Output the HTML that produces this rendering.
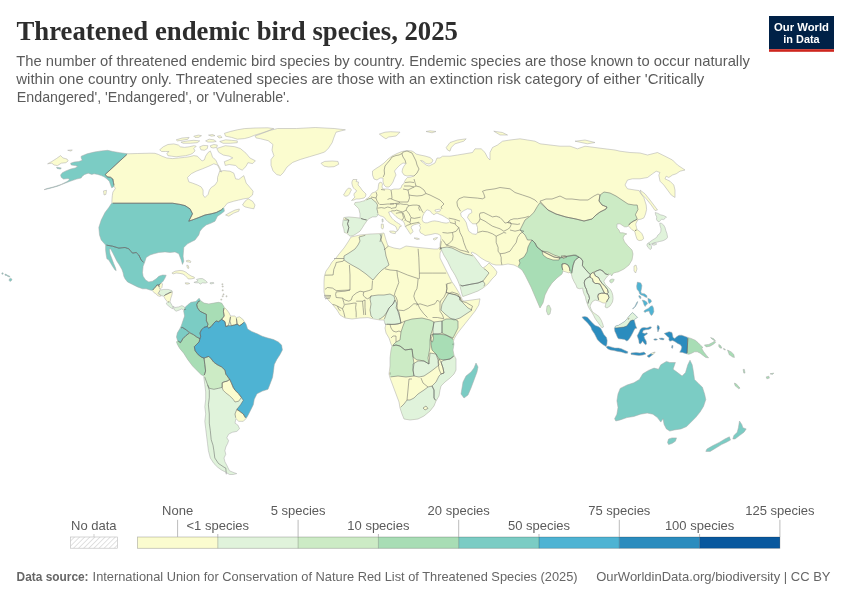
<!DOCTYPE html>
<html><head><meta charset="utf-8"><style>
html,body{margin:0;padding:0;background:#fff;width:850px;height:600px;overflow:hidden}
svg{display:block;will-change:transform}
.t{font-family:"Liberation Serif",serif;font-weight:700;fill:#2d2d2d}
.s{font-family:"Liberation Sans",sans-serif;fill:#5b5b5b}
.l{font-family:"Liberation Sans",sans-serif;fill:#5b5b5b;font-size:13px}
</style></head><body>
<svg width="850" height="600" viewBox="0 0 850 600">
<defs>
<pattern id="hatch" patternUnits="userSpaceOnUse" width="3.6" height="3.6" patternTransform="rotate(45)">
<rect width="3.6" height="3.6" fill="#fff"/><line x1="0" y1="0" x2="0" y2="3.6" stroke="#d2d2d2" stroke-width="1.3"/></pattern>
</defs>
<text class="t" x="16.5" y="39.8" font-size="27" textLength="441.5" lengthAdjust="spacingAndGlyphs">Threatened endemic bird species, 2025</text>
<text class="s" x="16.3" y="66" font-size="14.8" textLength="733.5" lengthAdjust="spacingAndGlyphs">The number of threatened endemic bird species by country. Endemic species are those known to occur naturally</text>
<text class="s" x="16.3" y="84.2" font-size="14.8" textLength="688" lengthAdjust="spacingAndGlyphs">within one country only. Threatened species are those with an extinction risk category of either 'Critically</text>
<text class="s" x="16.8" y="101.8" font-size="14.8" textLength="273" lengthAdjust="spacingAndGlyphs">Endangered', 'Endangered', or 'Vulnerable'.</text>
<g>
<rect x="769" y="16" width="65" height="33.2" fill="#002147"/>
<rect x="769" y="49.2" width="65" height="2.6" fill="#ce261e"/>
<text x="801.5" y="30.7" font-family="Liberation Sans, sans-serif" font-weight="700" font-size="11.5" fill="#fff" text-anchor="middle" textLength="55" lengthAdjust="spacingAndGlyphs">Our World</text>
<text x="801.5" y="42.8" font-family="Liberation Sans, sans-serif" font-weight="700" font-size="11.5" fill="#fff" text-anchor="middle" textLength="36.3" lengthAdjust="spacingAndGlyphs">in Data</text>
</g>
<g id="map">
<path d="M82.3,160.3 78.8,161.5 74.1,162.1 70.6,163.2 71.2,165.0 75.3,165.6 77.7,166.2 75.3,167.9 70.6,169.1 65.9,170.9 62.4,172.7 60.6,175.0 61.2,177.3 63.5,179.1 68.2,178.5 69.4,179.7 67.1,181.5 61.2,184.4 54.1,186.8 47.1,188.5 44.1,189.7 49.4,188.5 57.6,186.2 63.5,183.8 69.4,181.5 72.9,180.3 76.5,179.1 81.2,177.9 82.3,176.2 84.7,174.4 88.2,173.2 91.8,174.4 94.1,173.8 97.7,174.4 101.2,175.6 104.1,176.8 107.1,179.1 109.4,181.5 110.6,185.0 111.8,187.9 114.1,186.2 113.5,182.7 112.9,179.1 110.6,177.3 107.1,176.8 105.3,174.4 127.7,153.8 120.0,152.7 112.9,151.5 107.7,150.3 101.2,150.9 94.1,152.1 87.1,153.8 81.2,156.2 81.2,157.9Z" fill="#7bccc4"/>
<path d="M60.6,169.1 61.2,167.9 56.5,167.3 57.1,168.5Z" fill="#7bccc4"/>
<path d="M72.3,149.9 67.7,150.3 71.2,151.1Z" fill="#fbfccf"/>
<path d="M105.9,194.4 106.5,190.3 103.5,190.9 104.1,195.0Z" fill="#fbfccf"/>
<path d="M54.1,165.0 57.6,165.6 61.2,163.2 65.9,162.7 68.2,160.9 67.1,159.1 62.9,157.9 60.6,155.6 56.5,158.5 51.8,161.5 47.6,163.8 51.8,163.2Z" fill="#fbfccf"/>
<path d="M110.6,177.3 112.9,179.1 113.5,182.7 114.1,186.2 115.3,188.5 112.9,192.1 112.3,195.6 112.0,199.1 111.8,203.2 172.5,203.2 180.0,204.4 185.0,205.6 190.0,208.8 192.5,213.8 188.8,221.2 193.8,219.4 198.8,217.5 205.0,215.0 211.2,213.8 216.2,212.5 221.2,210.0 223.8,207.5 227.5,203.1 233.8,201.2 238.8,200.0 243.8,198.8 248.8,198.1 252.5,195.0 253.1,191.2 250.0,187.5 246.2,183.1 243.8,175.6 238.8,179.4 235.6,178.8 233.8,173.1 230.0,171.2 223.8,170.6 221.1,171.1 219.6,167.4 217.5,164.0 216.2,160.9 215.0,159.2 212.6,157.4 211.5,153.9 210.3,150.9 207.9,152.7 205.6,156.2 204.4,159.8 202.1,160.9 199.7,158.6 197.4,156.2 193.8,155.6 189.1,156.8 184.4,157.4 178.5,158.0 172.6,158.6 166.8,158.0 162.0,156.2 158.5,154.5 155.0,153.3 150.0,153.2 137.5,153.5 127.6,153.8 127.7,153.8 105.3,174.4 107.1,176.8ZM221.5,172.0 220.0,171.2 221.1,171.1ZM187.5,177.5 191.2,173.8 196.2,171.2 202.5,168.8 208.8,166.2 213.8,163.8 217.5,165.0 220.0,170.0 217.5,177.5 217.5,181.2 215.0,185.0 211.2,187.5 209.4,190.0 208.1,194.4 205.0,197.5 203.1,195.0 203.1,190.0 201.2,186.9 197.5,185.0 192.5,183.1 188.8,181.9Z" fill="#fbfccf"/>
<path d="M165.6,151.5 169.1,151.5 166.8,153.3 167.9,155.7 171.5,156.2 176.2,156.8 180.9,156.2 185.6,155.7 190.3,154.5 192.7,153.3 195.0,150.9 193.8,148.6 196.2,146.2 193.8,145.7 189.1,146.8 184.4,147.4 180.3,146.8 178.5,145.1 173.8,143.9 167.9,144.5 163.2,146.8 159.7,149.8 161.5,151.5Z" fill="#fbfccf"/>
<path d="M204.4,150.3 207.3,148.6 207.9,145.7 203.2,145.4 199.7,146.8 200.9,149.8Z" fill="#fbfccf"/>
<path d="M213.2,148.0 216.8,147.4 217.3,145.1 213.8,144.5 210.3,145.7 210.9,147.4Z" fill="#fbfccf"/>
<path d="M212.7,142.1 216.2,141.5 213.8,139.8 209.1,139.2 205.6,140.9 207.9,142.1Z" fill="#fbfccf"/>
<path d="M230.3,143.3 237.3,142.7 237.3,140.9 231.5,140.3 225.6,139.8 219.7,141.5 223.2,143.3Z" fill="#fbfccf"/>
<path d="M231.5,137.4 237.3,139.2 244.4,138.6 249.1,137.4 255.0,135.1 260.9,133.3 267.9,130.9 273.8,128.6 267.9,127.8 255.0,128.0 244.4,128.6 237.3,129.8 230.3,131.5 224.4,133.3 225.6,136.2Z" fill="#fbfccf"/>
<path d="M182.1,140.3 187.9,139.2 189.1,137.4 182.1,138.0 176.2,139.8 177.3,140.9Z" fill="#fbfccf"/>
<path d="M190.3,143.3 197.3,142.7 199.7,140.9 193.8,140.3 187.9,140.9 180.9,142.1 183.2,143.3Z" fill="#fbfccf"/>
<path d="M198.5,137.4 201.5,135.7 198.5,135.1 193.8,136.2 195.0,137.4Z" fill="#fbfccf"/>
<path d="M215.0,135.7 212.7,134.5 208.5,135.1 211.5,136.2Z" fill="#fbfccf"/>
<path d="M222.1,137.4 220.3,135.7 217.3,136.2 219.1,138.0Z" fill="#fbfccf"/>
<path d="M223.4,155.1 229.1,156.1 232.8,157.9 229.1,159.8 224.3,161.7 225.3,165.5 229.1,164.5 235.7,165.5 238.5,168.3 242.2,170.2 246.0,166.4 247.9,162.7 252.6,163.6 255.4,160.8 249.8,157.9 246.0,153.2 240.3,148.5 234.7,146.7 225.3,145.7 216.8,148.5 218.7,152.3Z" fill="#fbfccf"/>
<path d="M219.3,168.6 219.4,168.9 219.6,169.2 220.0,168.8Z" fill="#fbfccf"/>
<path d="M260.7,138.8 268.2,140.7 272.9,144.5 272.0,150.1 273.9,155.8 271.0,159.5 271.0,165.2 273.0,170.8 276.7,174.6 280.5,175.5 283.3,172.7 287.0,167.0 292.7,162.4 300.2,159.5 309.6,156.7 319.0,153.9 324.7,152.0 328.5,148.2 332.2,142.6 334.1,137.0 336.0,132.2 345.4,129.8 334.1,128.5 315.3,127.5 296.5,128.5 277.6,128.5 270.0,130.4 262.6,133.2 255.0,136.0 256.0,137.9Z" fill="#fbfccf"/>
<path d="M250.0,208.1 253.8,208.8 255.0,205.0 252.5,201.2 248.1,198.8 245.0,201.2 242.5,205.0 245.0,206.9Z" fill="#fbfccf"/>
<path d="M233.8,213.1 238.8,211.2 239.4,209.0 235.0,210.0 230.0,212.5 225.6,215.0 228.8,216.2Z" fill="#fbfccf"/>
<path d="M108.8,207.5 105.0,212.5 101.2,220.0 98.8,227.5 99.5,235.0 101.2,240.0 105.6,245.0 112.5,246.2 118.8,248.1 125.0,247.5 128.8,248.8 132.5,253.1 136.2,252.5 138.8,255.0 141.2,260.0 144.4,263.1 146.2,257.5 150.0,255.0 153.8,253.8 158.8,252.5 165.0,251.9 170.0,252.5 175.0,251.9 178.8,253.8 181.2,260.0 182.5,264.4 183.8,261.2 183.1,256.2 183.8,247.5 187.5,243.8 192.5,241.2 195.0,240.0 198.8,235.0 200.0,231.2 202.5,228.1 206.2,225.0 211.2,223.1 215.0,221.2 217.5,216.2 221.2,213.8 224.4,211.2 223.8,207.5 221.2,210.0 216.2,212.5 211.2,213.8 205.0,215.0 198.8,217.5 193.8,219.4 188.8,221.2 192.5,213.8 190.0,208.8 185.0,205.6 180.0,204.4 172.5,203.2 111.8,203.2 111.2,203.8Z" fill="#7bccc4"/>
<path d="M106.2,255.0 106.9,258.8 108.8,260.0 110.6,263.1 112.5,266.2 115.0,270.0 116.2,270.6 115.6,268.1 113.8,263.8 111.9,258.8 110.0,253.8 109.4,249.0 110.6,249.0 112.5,252.5 114.4,256.2 116.9,261.2 119.4,265.0 121.9,269.4 123.1,272.8 123.8,276.2 125.0,278.8 127.5,281.9 132.5,284.4 137.5,286.9 142.5,288.8 146.2,288.8 150.0,290.0 152.5,290.6 153.8,288.8 155.6,286.9 156.9,285.0 158.8,285.0 161.2,283.1 163.1,281.2 165.0,278.1 166.2,275.2 162.5,275.0 158.8,276.2 156.2,278.8 152.5,281.2 148.8,281.9 145.6,280.0 143.1,276.2 142.5,272.5 143.1,266.2 144.4,263.1 141.2,260.0 138.8,255.0 136.2,252.5 132.5,253.1 128.8,248.8 125.0,247.5 118.8,248.1 112.5,246.2 105.6,245.0 105.6,250.0Z" fill="#7bccc4"/>
<path d="M176.2,273.0 180.0,273.4 183.0,274.1 185.2,275.6 187.1,277.5 188.2,278.9 191.2,278.9 194.6,278.2 194.2,277.1 191.2,276.0 188.2,274.1 186.0,272.2 183.0,270.8 180.0,270.4 175.0,271.2 171.9,273.0 173.0,274.0Z" fill="#fbfccf"/>
<path d="M187.5,284.2 189.8,283.5 188.2,282.9 185.2,282.8 185.6,283.9Z" fill="#fbfccf"/>
<path d="M156.2,294.0 158.1,293.8 158.8,291.9 160.6,290.0 159.4,288.1 158.8,285.0 156.9,285.0 155.6,286.9 153.8,288.8 152.5,290.6 153.8,292.5Z" fill="#fbfccf"/>
<path d="M160.6,288.8 161.9,287.5 162.5,283.8 161.2,283.1 158.8,285.0 159.4,288.1Z" fill="#fbfccf"/>
<path d="M158.8,293.8 161.2,295.6 163.8,296.2 165.0,295.0 167.5,293.8 170.0,292.5 172.5,291.9 171.9,290.6 168.1,289.4 163.8,289.4 160.6,290.0 158.8,291.9Z" fill="#e0f3db"/>
<path d="M160.0,296.5 161.2,295.6 158.1,293.8 156.2,294.0 157.5,295.6Z" fill="#fbfccf"/>
<path d="M167.5,301.9 170.0,301.9 170.6,298.8 171.9,295.0 172.5,291.9 170.0,292.5 167.5,293.8 165.0,295.0 163.8,296.2 165.0,298.8Z" fill="#fbfccf"/>
<path d="M168.1,305.6 171.2,308.1 173.1,308.8 172.5,306.2 171.2,303.8 170.0,301.9 167.5,301.9 166.2,303.8Z" fill="#e0f3db"/>
<path d="M176.2,311.2 179.4,310.0 181.9,308.8 183.8,310.6 185.6,309.4 184.4,306.9 181.9,305.6 178.8,306.9 175.0,307.5 173.1,306.2 174.4,310.0Z" fill="#e0f3db"/>
<path d="M344.0,248.0 339.0,254.0 336.0,258.0 332.0,262.0 329.0,267.0 326.0,271.0 324.4,276.0 324.0,282.0 324.0,288.0 324.0,292.0 325.0,296.0 329.0,301.0 333.0,305.0 337.0,310.0 340.0,315.0 345.0,318.0 352.0,319.0 360.0,318.0 368.0,317.6 374.0,319.0 380.0,320.0 384.0,320.0 386.0,324.0 386.0,324.1 385.0,328.0 386.0,333.0 389.0,338.0 391.0,344.0 392.0,346.0 391.0,350.0 390.0,358.0 390.0,366.0 389.0,374.0 390.0,378.0 393.0,386.0 396.0,394.0 399.0,402.0 400.0,408.0 402.0,414.0 404.0,419.0 410.0,420.0 418.0,419.0 424.0,416.0 430.0,411.0 434.0,406.0 436.0,401.0 439.0,396.0 440.0,390.0 441.0,386.0 445.0,382.0 450.0,378.0 454.0,374.0 456.0,370.0 456.0,364.0 456.0,359.0 454.0,355.0 453.0,350.0 453.0,344.0 453.5,341.5 454.0,339.0 457.0,334.0 460.0,330.0 465.0,323.8 470.0,317.5 475.0,311.2 478.8,305.0 480.0,298.8 472.0,300.0 464.0,301.0 462.0,300.0 461.4,298.2 461.3,297.9 461.0,297.0 458.0,292.0 454.0,286.0 452.3,282.6 451.0,280.0 448.0,274.0 444.0,266.0 440.0,258.0 440.0,253.0 441.5,250.0 440.5,246.0 438.0,249.0 434.0,249.0 424.0,248.0 414.0,247.0 406.0,246.0 400.0,249.0 394.0,248.0 388.0,246.0 386.0,240.0 384.0,233.0 380.0,233.6 370.0,234.0 360.0,235.0 351.0,237.0 348.0,242.0Z" fill="#fbfccf"/>
<path d="M358.0,245.0 355.0,249.0 349.0,253.0 344.0,256.0 344.0,260.0 350.0,264.0 359.0,269.0 366.0,274.0 373.0,280.0 378.0,274.0 382.0,270.0 389.0,265.0 386.0,256.0 385.0,250.0 384.0,246.0 381.0,240.0 382.0,234.0 370.0,234.0 359.0,237.0 360.0,241.0Z" fill="#e0f3db"/>
<path d="M371.0,304.0 370.0,310.0 371.0,316.0 374.0,319.0 380.0,319.0 384.0,316.0 387.0,312.0 389.0,308.0 393.0,304.0 395.0,300.0 394.0,296.0 390.0,294.0 384.0,295.0 378.0,295.0 371.0,296.0 370.0,299.0Z" fill="#e0f3db"/>
<path d="M389.0,308.0 387.0,312.0 384.0,320.0 385.0,324.0 392.0,324.4 398.0,324.0 401.0,323.0 400.0,318.0 399.0,312.0 396.0,308.0 397.0,304.0 395.0,300.0 393.0,304.0Z" fill="#e0f3db"/>
<path d="M442.0,304.0 441.0,310.0 445.0,314.0 450.0,318.0 454.0,320.0 460.0,318.0 466.0,314.0 472.0,310.0 468.0,308.0 463.0,303.0 460.0,299.0 458.0,294.0 452.0,292.0 448.0,294.0 445.0,299.0Z" fill="#e0f3db"/>
<path d="M401.0,332.0 400.0,340.0 396.0,342.0 392.0,346.0 396.0,345.0 400.0,346.0 405.0,350.0 412.0,349.0 413.0,357.0 417.0,360.0 419.0,360.0 424.0,361.0 429.0,364.0 428.0,358.0 429.0,353.0 430.0,347.0 430.0,340.0 431.0,334.0 433.0,328.0 434.0,322.0 430.0,320.0 422.0,318.0 412.0,319.0 405.0,321.0 403.0,326.0Z" fill="#ccebc5"/>
<path d="M390.0,358.0 390.0,366.0 390.0,377.0 398.0,376.0 406.0,377.0 414.0,376.0 413.0,370.0 414.0,364.0 413.0,357.0 412.0,349.0 405.0,350.0 400.0,346.0 396.0,345.0 392.0,346.0 391.0,350.0Z" fill="#ccebc5"/>
<path d="M414.0,376.0 419.0,377.0 424.0,376.0 430.0,372.0 434.0,369.0 439.0,365.0 438.0,360.0 436.0,354.0 430.0,353.0 429.0,364.0 424.0,361.0 418.0,361.0 413.0,364.0 413.0,370.0Z" fill="#e0f3db"/>
<path d="M431.0,344.0 432.0,350.0 436.0,354.0 439.0,359.0 444.0,360.0 450.0,359.0 454.0,356.0 453.0,350.0 454.0,344.0 453.5,341.5 453.0,339.0 446.0,335.0 438.0,334.0 433.0,334.0 431.0,339.0Z" fill="#a8ddb5"/>
<path d="M442.0,333.0 446.0,335.0 453.0,338.0 456.0,332.0 458.0,328.0 458.0,321.0 454.0,319.0 446.0,319.0 442.0,321.0 442.0,328.0Z" fill="#ccebc5"/>
<path d="M433.0,334.0 438.0,334.0 442.0,333.0 442.0,328.0 442.0,321.0 434.0,322.0 433.0,328.0Z" fill="#e0f3db"/>
<path d="M443.0,368.0 444.0,373.0 441.0,374.0 439.0,376.0 436.0,382.0 432.0,386.0 434.0,390.0 434.0,398.0 436.0,401.0 439.0,396.0 440.0,390.0 441.0,386.0 445.0,382.0 450.0,378.0 454.0,374.0 456.0,370.0 456.0,364.0 456.0,359.0 454.0,356.0 450.0,359.0 444.0,360.0 441.0,362.0Z" fill="#e0f3db"/>
<path d="M439.0,369.0 441.0,374.0 444.0,373.0 443.0,368.0 441.0,362.0 439.0,359.0 438.0,362.0Z" fill="#fbfccf"/>
<path d="M404.0,419.0 410.0,420.0 418.0,419.0 424.0,416.0 430.0,411.0 434.0,406.0 436.0,401.0 434.0,398.0 434.0,390.0 432.0,386.0 428.0,387.0 424.0,390.0 418.0,394.0 414.0,398.0 410.0,400.0 407.0,400.0 404.0,404.0 400.0,408.0 402.0,414.0Z" fill="#e0f3db"/>
<path d="M428.0,408.4 426.0,406.0 423.0,408.0 425.0,410.0Z" fill="#fbfccf"/>
<path d="M471.0,372.0 466.0,376.0 463.0,382.0 462.0,388.0 461.0,394.0 464.0,398.0 468.0,395.0 471.0,388.0 474.0,380.0 477.0,372.0 478.0,367.0 476.0,363.0 474.0,368.0Z" fill="#7bccc4"/>
<path d="M431.0,341.0 432.5,342.0 433.5,338.0 433.0,334.5 430.5,335.0 430.5,338.0Z" fill="#fbfccf"/>
<path d="M446.2,292.5 451.2,293.8 456.2,295.0 460.0,297.5 461.2,297.5 461.2,297.5 461.0,297.0 458.8,292.5 455.0,286.2 452.5,282.5 452.3,282.6 446.9,283.8 446.9,288.8Z" fill="#fbfccf"/>
<path d="M461.0,301.0 462.0,300.0 462.0,298.5 461.4,298.2 460.0,297.5 459.5,300.0Z" fill="#fbfccf"/>
<path d="M356.2,233.8 360.0,231.2 362.5,227.5 364.4,224.4 366.2,221.9 367.5,220.0 368.8,218.8 372.5,216.9 376.2,216.9 377.5,213.9 378.0,214.3 380.1,215.8 382.6,216.5 384.5,217.7 385.8,219.6 387.7,221.5 390.2,223.4 392.7,224.7 395.3,226.0 396.5,227.9 397.2,230.4 396.5,231.7 397.8,230.4 399.1,228.5 399.7,226.6 401.0,226.6 401.6,226.0 400.3,224.7 398.4,223.4 396.5,222.2 394.0,220.3 392.1,218.4 390.2,215.8 388.6,212.0 390.2,211.7 390.8,211.4 392.1,212.7 394.0,214.6 395.9,216.5 398.4,218.4 401.0,219.6 402.9,220.9 404.2,222.8 404.8,224.7 405.4,226.6 406.7,228.5 408.0,230.4 409.2,232.3 410.5,234.2 411.8,233.0 413.0,231.7 412.4,229.8 411.1,227.9 411.8,226.0 413.0,225.3 414.3,224.7 416.8,224.1 419.4,223.4 420.5,224.2 419.4,225.3 420.6,227.9 419.4,230.4 420.6,233.0 423.2,234.2 425.0,235.5 428.0,235.0 431.0,234.5 435.0,233.5 438.0,234.0 440.5,235.5 441.0,238.0 440.5,241.0 440.0,244.0 440.0,246.6 440.0,248.0 441.5,250.0 443.8,255.0 447.5,261.2 451.2,268.8 455.0,275.0 457.5,280.0 460.0,286.2 461.2,291.2 462.5,296.2 463.0,296.5 470.0,294.0 478.0,291.0 483.0,288.0 488.0,284.0 492.0,279.0 496.0,275.0 497.0,272.0 494.0,268.0 491.0,265.0 489.0,263.0 486.0,266.0 483.0,268.0 481.0,266.0 479.0,263.0 476.0,259.0 473.0,255.0 471.0,253.0 472.0,252.0 476.0,254.0 481.0,258.0 486.0,261.0 489.0,262.0 492.0,264.0 496.0,265.0 502.0,265.0 508.0,264.0 514.0,265.0 518.0,267.0 522.0,270.0 525.0,275.0 528.0,281.0 531.0,287.0 534.0,294.0 537.0,301.0 540.0,308.0 543.0,303.0 545.0,295.0 548.0,289.0 552.0,283.0 557.0,278.0 562.0,274.0 563.0,271.0 566.0,272.0 569.0,273.0 570.0,272.0 571.5,274.5 572.2,277.5 573.8,281.2 576.0,285.0 577.1,288.0 579.8,288.8 582.8,288.0 582.8,290.0 584.0,294.0 585.5,297.0 586.0,300.0 587.0,303.0 588.0,306.0 589.5,309.0 591.0,311.0 592.3,313.0 593.8,315.8 595.3,318.8 597.5,321.8 599.8,325.1 602.0,327.8 603.5,327.0 602.8,324.0 601.3,320.3 599.0,316.5 596.0,314.3 592.6,312.0 591.0,309.0 590.0,306.0 592.0,302.0 595.0,300.0 599.0,301.0 603.0,303.0 606.0,303.0 605.0,307.0 607.0,308.0 610.0,306.0 612.5,302.0 613.1,298.5 612.8,295.5 612.0,292.5 610.5,289.5 608.2,287.2 605.2,284.2 603.8,281.2 605.2,279.0 607.5,276.0 610.5,273.8 611.5,276.0 613.5,273.0 616.5,272.2 618.0,272.0 624.0,269.0 629.0,265.0 632.0,260.0 633.0,254.0 632.0,250.0 627.5,245.5 624.5,241.8 623.0,238.0 624.5,235.0 626.8,233.9 623.0,232.8 620.0,232.8 619.0,230.0 617.0,228.0 617.0,224.0 620.0,223.8 624.5,226.8 626.8,226.8 628.2,226.0 629.4,226.8 630.5,228.2 632.0,229.8 634.2,230.9 635.0,232.4 635.4,234.2 636.1,236.5 637.2,239.5 639.1,240.6 641.8,240.2 643.6,238.8 643.2,236.5 641.8,233.5 639.5,231.2 637.2,229.8 636.5,227.5 635.8,224.5 636.1,223.0 636.9,221.5 638.0,220.0 638.0,219.6 641.0,219.2 644.0,217.8 645.5,214.0 646.6,209.5 646.2,205.0 643.8,197.5 638.8,190.5 635.0,190.0 627.5,188.8 625.0,185.0 627.5,180.0 632.5,178.8 640.0,178.8 647.5,177.5 652.5,173.8 656.2,171.2 660.0,172.5 658.8,175.0 660.0,181.2 663.8,185.0 667.5,190.0 671.2,195.0 675.0,197.5 675.0,190.0 673.8,185.0 670.0,181.2 665.0,178.8 666.2,176.2 668.8,177.5 672.5,175.0 676.2,173.8 680.0,171.2 685.0,170.0 677.5,165.0 672.5,160.0 665.0,156.2 657.5,152.5 647.5,155.0 640.0,153.0 630.0,152.5 620.0,151.2 615.0,150.0 605.0,148.8 595.0,147.5 585.0,146.2 577.5,148.8 570.0,146.2 560.0,146.2 550.0,145.0 540.0,143.8 535.0,141.2 527.5,140.0 520.0,138.8 510.0,140.0 502.5,141.2 497.5,145.0 492.5,147.5 490.0,152.5 490.0,160.0 487.5,157.5 485.0,152.5 481.2,148.8 475.0,148.8 472.5,152.5 465.0,153.8 457.5,155.0 450.0,156.2 442.5,156.2 440.0,158.0 437.0,158.0 435.0,163.0 432.0,164.5 429.0,166.0 426.0,165.0 423.0,162.5 420.5,160.5 423.0,161.0 426.0,163.5 429.0,164.0 432.0,162.5 433.0,160.0 430.0,157.5 425.0,156.0 420.0,155.0 416.0,154.0 414.5,152.5 412.0,151.0 407.0,150.5 402.0,151.5 397.0,153.5 392.0,156.0 388.0,159.0 384.0,163.0 380.0,166.0 376.0,168.5 372.5,171.0 372.5,175.0 374.0,179.0 377.0,180.0 380.0,178.0 383.0,178.0 383.0,182.0 384.0,185.0 386.0,187.0 389.0,187.0 391.0,185.0 393.0,182.0 394.5,178.0 396.0,175.0 394.5,171.0 397.0,168.0 400.0,165.0 403.0,163.0 406.0,163.5 404.0,166.0 402.5,169.0 402.0,172.0 404.0,175.0 407.0,176.0 411.0,175.5 414.0,176.0 411.0,177.0 407.5,177.5 406.0,179.0 404.5,181.5 404.0,183.5 402.0,185.0 401.0,188.0 399.0,189.0 394.0,189.0 391.0,190.0 388.0,189.0 386.0,189.0 383.0,189.0 382.0,187.0 382.5,184.0 381.0,182.0 379.0,183.0 378.5,185.0 378.0,189.5 375.0,192.0 372.0,193.0 370.0,196.0 368.0,198.0 366.0,199.0 365.0,200.6 362.5,201.2 360.0,201.9 355.0,202.5 354.4,204.4 356.2,206.2 358.8,208.8 360.0,213.8 360.0,218.1 355.0,217.5 348.8,216.9 343.8,217.5 343.1,221.2 342.5,225.0 343.8,228.8 344.4,232.5 346.2,233.1 348.1,234.4 350.0,236.2 353.1,235.6ZM434.9,210.1 436.8,209.6 439.2,209.2 440.6,209.6 440.1,211.1 438.2,211.5 436.4,211.8 435.2,211.1ZM422.2,219.5 422.7,216.2 424.1,213.4 426.0,210.6 427.4,209.9 429.3,210.6 430.7,211.5 431.6,212.9 433.1,214.4 434.5,214.4 435.9,213.4 436.8,213.2 437.8,213.4 439.6,214.4 442.0,215.3 444.4,216.7 446.7,218.1 449.1,219.5 450.0,221.4 448.6,222.6 446.2,223.1 443.9,222.8 441.5,222.4 439.2,221.6 436.8,221.2 434.5,220.9 432.1,221.2 429.8,221.9 427.4,222.8 425.1,222.8 423.2,221.9ZM460.6,213.1 463.8,210.6 467.5,208.8 471.2,209.4 471.9,212.5 468.8,214.4 467.5,217.5 470.0,221.2 472.5,223.8 476.2,223.8 477.5,227.5 477.5,232.5 476.2,234.4 472.5,233.8 468.8,231.2 467.5,227.5 466.2,222.5 463.8,218.8 461.2,216.2Z" fill="#fbfccf"/>
<path d="M351.8,183.0 352.5,186.0 353.5,188.0 355.0,189.5 356.5,190.5 356.0,192.0 354.0,193.5 354.0,195.5 355.0,197.0 353.0,199.0 351.5,200.5 354.0,200.0 356.0,199.0 359.0,199.0 361.5,198.5 364.0,198.0 365.5,196.5 366.0,194.0 364.0,192.0 362.0,190.0 360.0,187.0 358.0,185.0 358.5,182.0 356.0,181.5 357.0,179.5 353.0,179.5 352.2,181.0Z" fill="#fbfccf"/>
<path d="M345.0,192.5 343.5,195.0 345.0,196.2 347.5,196.0 349.5,194.0 350.5,191.5 351.5,190.0 350.5,188.5 348.5,188.0 346.5,190.0Z" fill="#fbfccf"/>
<path d="M328.5,167.0 334.1,166.7 338.8,164.2 337.9,161.4 332.2,161.0 324.7,161.4 321.0,163.3 323.8,166.1Z" fill="#fbfccf"/>
<path d="M385.9,138.8 388.7,137.0 396.2,136.0 400.0,132.2 390.6,131.7 385.0,132.2 379.3,134.1 383.0,137.0Z" fill="#fbfccf"/>
<path d="M450.0,151.2 451.2,147.5 455.0,143.8 463.8,141.2 466.2,138.8 457.5,140.0 450.0,142.5 446.2,147.5 447.5,150.0Z" fill="#fbfccf"/>
<path d="M507.5,135.0 502.5,132.5 493.8,131.2 500.0,135.0Z" fill="#fbfccf"/>
<path d="M595.0,142.5 585.0,140.0 575.0,141.2 587.5,143.8Z" fill="#fbfccf"/>
<path d="M646.2,198.8 651.2,205.0 655.0,210.5 657.5,210.0 653.8,205.0 650.0,200.0 645.0,193.8 640.0,190.0 641.2,193.8Z" fill="#fbfccf"/>
<path d="M419.5,239.0 417.0,238.0 414.0,238.0 417.0,239.5Z" fill="#fbfccf"/>
<path d="M436.5,239.0 437.5,237.5 435.0,238.0 433.0,239.0 434.5,240.0Z" fill="#fbfccf"/>
<path d="M392.7,233.3 395.3,233.6 395.9,231.7 393.4,231.1 389.6,231.1 390.2,232.3Z" fill="#fbfccf"/>
<path d="M382.6,229.2 383.6,227.2 383.2,224.1 381.3,224.1 381.3,227.9Z" fill="#fbfccf"/>
<path d="M383.2,221.6 382.9,219.0 382.0,219.0 382.3,222.2Z" fill="#e0f3db"/>
<path d="M354.4,204.4 356.2,206.2 358.8,208.8 360.0,213.8 360.0,218.1 360.0,218.1 363.8,219.4 367.5,220.0 368.8,218.8 372.5,216.9 376.2,216.9 378.1,215.0 378.0,214.3 377.5,211.2 376.9,208.8 377.5,205.0 376.2,202.5 373.1,200.0 371.2,198.1 368.8,198.8 365.0,200.6 362.5,201.2 360.0,201.9 355.0,202.5 354.4,204.4Z" fill="#e0f3db"/>
<path d="M348.8,220.0 347.5,223.8 348.8,227.5 347.5,232.5 348.1,234.4 350.0,236.2 353.1,235.6 356.2,233.8 360.0,231.2 362.5,227.5 364.4,224.4 366.2,221.9 367.5,220.0 363.8,219.4 360.0,218.1 355.0,217.5 348.8,216.9 343.8,217.5Z" fill="#e0f3db"/>
<path d="M343.8,228.8 344.4,232.5 347.5,233.1 348.8,227.5 347.5,223.8 348.8,220.0 343.3,220.0 343.1,220.0 342.5,225.0Z" fill="#e0f3db"/>
<path d="M436.0,131.5 430.0,130.8 426.0,131.5 432.0,132.8Z" fill="#fbfccf"/>
<path d="M520.0,230.0 525.0,235.0 527.5,240.0 532.0,240.0 535.0,243.0 537.0,247.0 542.0,251.0 548.0,254.0 554.0,257.0 560.0,258.0 562.0,257.0 568.0,256.0 574.0,255.0 579.0,257.2 580.5,258.0 582.8,261.0 582.4,265.5 585.0,268.9 588.0,272.2 590.2,274.5 592.5,272.6 596.2,271.1 600.0,269.6 603.0,271.1 605.2,273.8 607.5,274.5 610.5,273.8 611.5,276.0 613.5,273.0 616.5,272.2 618.0,272.0 624.0,269.0 629.0,265.0 632.0,260.0 633.0,254.0 632.0,250.0 627.5,245.5 624.5,241.8 623.0,238.0 624.5,235.0 626.8,233.9 623.0,232.8 620.0,232.8 619.0,230.0 617.0,228.0 617.0,224.0 620.0,223.8 624.5,226.8 626.8,226.8 628.2,226.0 629.0,224.5 631.2,222.6 633.5,221.1 635.8,220.0 637.2,219.2 636.5,217.0 635.4,214.8 636.1,213.2 638.0,209.5 637.2,205.0 634.0,205.0 628.0,204.0 622.0,200.0 616.0,196.0 610.0,193.0 604.0,192.0 600.0,195.0 599.0,201.0 602.0,205.0 607.0,207.0 606.0,209.0 600.0,212.0 596.0,215.0 592.0,219.0 584.0,221.0 576.0,219.0 566.0,217.0 556.0,214.0 548.0,210.0 540.0,202.5 537.5,206.2 533.8,212.5 530.0,216.2 525.0,220.0 522.5,225.0Z" fill="#ccebc5"/>
<path d="M556.0,214.0 566.0,217.0 576.0,219.0 584.0,221.0 592.0,219.0 596.0,215.0 600.0,212.0 606.0,209.0 607.0,207.0 602.0,205.0 599.0,201.0 600.0,195.0 598.0,194.0 594.0,196.0 588.0,200.0 580.0,200.0 572.0,199.0 566.0,199.0 560.0,196.0 552.0,199.0 546.0,199.0 540.0,201.2 548.0,210.0Z" fill="#fbfccf"/>
<path d="M525.0,275.0 528.0,281.0 531.0,287.0 534.0,294.0 537.0,301.0 540.0,308.0 543.0,303.0 545.0,295.0 548.0,289.0 552.0,283.0 557.0,278.0 562.0,274.0 563.0,271.0 562.0,267.0 562.0,264.0 565.0,263.5 568.0,265.0 569.5,268.0 570.0,272.0 571.5,274.5 572.2,270.0 573.0,265.5 574.5,261.0 577.5,258.0 579.0,257.2 576.0,255.0 570.0,256.0 564.0,257.0 560.0,258.0 554.0,257.0 548.0,254.0 542.0,251.0 537.0,247.0 535.0,243.0 532.0,240.0 530.0,243.0 528.0,247.0 527.0,252.0 524.0,257.0 519.0,260.0 520.0,263.0 518.0,267.0 522.0,270.0Z" fill="#a8ddb5"/>
<path d="M547.0,258.0 553.0,260.0 559.0,260.0 560.0,257.0 554.0,255.0 548.0,252.0 542.0,251.0 543.0,255.0Z" fill="#fbfccf"/>
<path d="M563.0,271.0 566.0,272.0 569.0,273.0 570.0,272.0 569.5,268.0 568.0,265.0 565.0,263.5 562.0,264.0 562.0,267.0Z" fill="#fbfccf"/>
<path d="M567.0,257.0 565.0,255.5 561.0,256.0 563.0,258.5Z" fill="#fbfccf"/>
<path d="M548.0,315.0 550.0,314.0 551.0,309.0 549.0,305.0 547.0,306.0 546.4,311.0Z" fill="#ccebc5"/>
<path d="M574.5,261.0 573.0,265.5 572.2,270.0 571.5,274.5 572.2,277.5 573.8,281.2 576.0,285.0 577.1,288.0 579.8,288.8 582.8,288.0 582.8,290.0 584.0,294.0 585.5,297.0 586.0,300.0 587.0,303.0 588.0,306.0 588.0,303.0 588.8,300.0 589.5,298.5 588.8,295.5 587.2,292.5 586.5,289.5 585.0,286.5 584.2,282.8 585.0,279.8 588.0,277.5 589.9,276.8 590.2,274.5 588.0,272.2 585.0,268.9 582.4,265.5 582.8,261.0 580.5,258.0 579.0,257.2 577.5,258.0Z" fill="#e0f3db"/>
<path d="M585.0,279.8 584.2,282.8 585.0,286.5 586.5,289.5 587.2,292.5 588.8,295.5 589.5,298.5 588.8,300.0 588.0,303.0 588.0,306.0 589.5,309.0 591.0,311.0 592.3,313.0 594.0,313.5 592.6,312.0 591.0,309.0 590.0,306.0 592.0,302.0 595.0,300.0 599.0,301.0 598.5,299.2 597.8,296.2 598.5,294.0 601.5,293.2 604.5,293.2 603.0,290.2 601.5,287.2 600.0,284.2 597.8,283.5 595.5,283.5 593.2,282.0 592.5,279.0 591.0,277.5 589.9,276.8 588.0,277.5Z" fill="#e0f3db"/>
<path d="M591.0,277.5 592.5,279.0 593.2,282.0 595.5,283.5 597.8,283.5 600.0,284.2 601.5,287.2 603.0,290.2 604.5,293.2 606.8,294.0 608.2,292.5 607.5,289.5 605.2,286.5 602.2,283.5 600.0,280.5 598.5,277.5 595.5,276.0 594.0,273.0 592.5,272.6 590.2,274.5 589.9,276.8Z" fill="#fbfccf"/>
<path d="M598.5,299.2 599.0,301.0 603.0,303.0 606.0,303.0 607.5,300.0 609.0,297.8 608.2,294.8 606.8,294.0 604.5,293.2 601.5,293.2 598.5,294.0 597.8,296.2Z" fill="#fbfccf"/>
<path d="M598.5,277.5 600.0,280.5 602.2,283.5 605.2,286.5 607.5,289.5 608.2,292.5 606.8,294.0 608.2,294.8 609.0,297.8 607.5,300.0 606.0,303.0 605.0,307.0 607.0,308.0 610.0,306.0 612.5,302.0 613.1,298.5 612.8,295.5 612.0,292.5 610.5,289.5 608.2,287.2 605.2,284.2 603.8,281.2 605.2,279.0 607.5,276.0 610.5,273.8 607.5,274.5 605.2,273.8 603.0,271.1 600.0,269.6 596.2,271.1 594.0,273.0 595.5,276.0Z" fill="#e0f3db"/>
<path d="M593.8,315.8 595.3,318.8 597.5,321.8 599.8,325.1 602.0,327.8 603.5,327.0 602.8,324.0 601.3,320.3 599.0,316.5 596.0,314.3 594.0,313.5 592.8,313.8Z" fill="#e0f3db"/>
<path d="M635.6,273.0 637.0,269.0 636.0,265.0 634.0,266.0 634.0,271.0Z" fill="#fbfccf"/>
<path d="M611.6,283.1 613.5,281.2 614.2,279.4 612.0,279.0 609.8,280.1 609.8,282.0Z" fill="#ccebc5"/>
<path d="M660.1,226.0 660.9,228.2 660.9,231.2 659.8,233.5 657.9,235.0 656.8,237.2 654.5,238.8 652.2,240.2 650.0,241.8 649.1,242.7 649.1,242.7 648.5,243.2 649.6,244.8 651.5,244.0 653.0,243.2 655.2,242.5 657.5,242.1 659.8,241.4 662.0,241.0 664.2,240.2 666.5,238.8 667.6,237.2 666.9,233.5 665.8,230.5 665.0,227.5 663.5,224.9 661.6,223.4 659.8,223.0 659.8,224.5Z" fill="#e0f3db"/>
<path d="M654.5,245.1 656.8,244.0 655.2,242.9 652.2,244.0 652.6,245.1Z" fill="#e0f3db"/>
<path d="M633.5,221.1 631.2,222.6 629.0,224.5 628.2,226.0 629.4,226.8 630.5,228.2 632.0,229.8 634.2,230.9 637.2,229.8 636.5,227.5 635.8,224.5 636.1,223.0 636.9,221.5 638.0,220.0 637.2,219.2 635.8,220.0Z" fill="#fbfccf"/>
<path d="M635.4,234.2 636.1,236.5 637.2,239.5 639.1,240.6 641.8,240.2 643.6,238.8 643.2,236.5 641.8,233.5 639.5,231.2 637.2,229.8 634.2,230.9 635.0,232.4Z" fill="#fbfccf"/>
<path d="M656.8,217.0 656.4,219.2 657.5,221.1 659.0,221.9 660.1,220.8 661.6,219.2 663.5,219.6 665.0,218.5 666.5,217.0 663.5,215.5 660.5,214.8 657.5,213.2 655.2,212.5 655.6,214.8Z" fill="#e0f3db"/>
<path d="M648.5,247.8 650.0,249.6 651.5,248.5 651.5,246.2 650.6,244.4 650.4,244.0 648.9,242.5 647.0,244.0 647.0,245.9Z" fill="#e0f3db"/>
<path d="M637.0,289.2 638.9,291.5 639.6,293.8 641.1,294.9 643.0,295.6 645.2,297.1 647.1,297.5 646.8,295.6 644.5,293.8 641.5,293.4 640.8,291.5 641.5,288.5 641.9,285.5 640.8,282.9 637.4,282.1 636.6,286.2Z" fill="#4eb3d3"/>
<path d="M640.0,298.6 641.1,298.2 640.4,296.0 638.9,295.6 638.9,296.8Z" fill="#4eb3d3"/>
<path d="M649.0,303.5 650.5,302.8 651.6,301.2 650.5,299.4 647.9,298.2 648.2,301.2Z" fill="#4eb3d3"/>
<path d="M644.1,305.0 645.2,306.5 646.0,305.0 647.5,303.9 646.8,302.0 644.5,300.5 642.2,300.1 643.4,302.8Z" fill="#4eb3d3"/>
<path d="M646.8,311.4 649.0,311.0 649.8,313.2 651.2,315.5 652.4,314.8 653.9,311.8 653.5,308.0 652.4,305.8 650.9,306.1 648.2,308.4 646.0,309.5 643.8,311.0 644.9,312.5Z" fill="#4eb3d3"/>
<path d="M635.5,306.5 637.4,303.1 637.8,301.6 637.0,302.0 634.8,306.5 632.5,308.8 633.2,308.8Z" fill="#4eb3d3"/>
<path d="M584.8,320.2 587.8,323.2 590.8,327.0 591.9,330.0 594.5,333.8 596.0,336.8 597.5,339.8 600.5,342.8 603.5,345.0 606.1,346.5 606.9,344.2 607.2,340.5 606.5,337.5 603.9,334.5 602.0,330.8 600.5,328.1 598.2,326.6 595.2,325.5 593.0,323.6 590.0,320.2 587.4,317.2 584.8,316.5 582.1,316.9 582.5,318.0Z" fill="#2b8cbe"/>
<path d="M610.2,349.9 614.0,350.6 617.8,351.4 621.5,352.1 625.2,353.2 627.5,353.2 627.9,351.8 624.5,350.2 621.5,348.8 618.5,348.0 614.8,348.0 611.0,346.9 608.0,346.1 606.1,346.9 607.6,348.8Z" fill="#2b8cbe"/>
<path d="M614.8,331.2 616.2,334.2 617.4,337.2 618.5,338.8 621.5,339.1 624.5,339.5 626.8,341.0 628.2,340.2 629.8,338.0 631.2,335.8 632.8,332.8 633.9,330.5 635.0,328.6 636.9,328.2 635.8,326.0 635.0,323.0 634.2,320.0 635.8,318.5 637.6,317.4 636.5,316.2 634.2,314.0 632.4,312.5 630.9,314.0 629.0,316.2 627.6,318.1 626.8,319.2 624.5,321.5 621.5,323.4 618.5,325.2 615.5,326.0 614.4,328.2Z" fill="#2b8cbe"/>
<path d="M616.6,327.9 620.0,327.5 623.8,327.1 626.8,326.0 629.0,323.0 630.5,320.8 632.8,320.0 634.2,320.0 635.8,318.5 637.6,317.4 636.5,316.2 634.2,314.0 632.4,312.5 630.9,314.0 629.0,316.2 627.6,318.1 626.8,319.2 624.5,321.5 621.5,323.4 618.5,325.2 615.5,326.0 614.8,327.6Z" fill="#e0f3db"/>
<path d="M629.0,318.9 628.6,317.4 627.5,317.8 627.9,319.2Z" fill="#fbfccf"/>
<path d="M639.5,331.2 638.4,333.5 637.2,335.8 638.0,338.0 638.8,340.2 639.1,343.2 640.2,344.0 641.8,342.5 642.5,341.0 644.0,343.2 645.5,344.8 646.6,344.0 646.2,341.0 644.8,338.8 644.0,336.5 645.5,335.0 647.4,333.9 647.0,332.8 644.8,333.5 642.5,332.8 643.2,330.5 645.5,329.8 648.5,329.4 650.8,328.6 651.5,327.1 650.0,326.8 647.0,327.9 644.0,327.5 641.8,327.9 640.2,329.4Z" fill="#2b8cbe"/>
<path d="M657.5,329.8 657.9,332.0 658.6,330.5 659.4,328.2 659.0,326.0 657.5,325.2 657.1,327.5Z" fill="#2b8cbe"/>
<path d="M663.5,339.9 664.2,338.8 662.0,338.0 659.0,338.4 660.5,339.5Z" fill="#2b8cbe"/>
<path d="M656.0,340.2 657.5,339.5 656.0,338.8 653.8,339.1 654.1,340.1Z" fill="#2b8cbe"/>
<path d="M635.0,355.0 639.0,355.6 643.0,355.0 646.0,354.0 644.0,352.0 640.0,353.0 636.0,352.4 631.0,353.0 631.0,354.4Z" fill="#2b8cbe"/>
<path d="M653.0,354.4 653.3,354.0 654.9,352.1 654.9,352.1 655.0,352.0 654.1,352.3 654.1,352.3 652.4,352.9 652.4,352.9 652.0,353.0 651.7,353.2 651.7,353.2 651.0,353.6 647.0,356.0 649.0,357.6Z" fill="#2b8cbe"/>
<path d="M667.4,336.6 669.1,337.7 668.8,339.5 669.8,341.2 672.6,340.5 674.8,341.6 677.6,343.4 680.4,344.8 681.8,346.9 681.1,349.7 679.7,352.2 682.5,352.5 684.6,353.2 687.1,353.9 687.8,337.4 684.6,336.3 681.8,335.2 679.0,335.2 676.9,336.6 674.8,338.4 673.0,337.4 672.6,334.9 671.9,332.4 669.1,331.7 667.0,332.4 664.2,333.5 665.9,334.9Z" fill="#2b8cbe"/>
<path d="M672.6,348.3 673.0,345.5 671.9,345.5 671.6,347.9Z" fill="#2b8cbe"/>
<path d="M688.9,354.3 691.7,353.2 694.5,351.8 697.3,351.8 700.2,353.2 703.0,355.4 705.8,357.5 708.6,357.8 706.5,355.4 703.7,351.8 701.6,348.3 703.0,347.6 700.9,345.5 698.0,342.6 695.2,340.2 691.0,338.4 687.8,337.4 687.1,353.9Z" fill="#a8ddb5"/>
<path d="M710.0,346.2 713.1,344.4 715.6,342.5 714.4,341.2 712.5,342.5 708.8,344.4 704.4,345.0 706.2,346.9Z" fill="#a8ddb5"/>
<path d="M714.4,340.6 715.6,341.2 713.8,338.8 710.6,337.5 711.9,339.0Z" fill="#a8ddb5"/>
<path d="M720.0,348.1 721.9,348.1 720.6,345.6 718.8,344.4 718.8,346.2Z" fill="#a8ddb5"/>
<path d="M725.4,350.0 725.0,349.1 723.5,348.5 723.8,349.5Z" fill="#a8ddb5"/>
<path d="M730.6,355.6 732.5,356.9 734.4,357.5 733.8,354.4 731.2,351.9 727.5,350.0 729.4,355.0Z" fill="#a8ddb5"/>
<path d="M616.9,400.8 618.0,407.5 616.9,414.2 614.6,418.8 615.8,421.0 620.2,419.9 627.0,417.6 633.8,416.5 640.5,414.2 647.2,413.1 652.9,414.2 657.4,417.6 660.8,422.1 663.0,418.8 664.1,424.4 666.4,428.9 669.8,431.1 674.2,430.0 681.0,428.9 686.6,426.6 691.1,422.1 695.6,417.6 700.1,412.0 703.5,406.4 705.8,399.6 704.6,394.0 702.4,387.2 699.0,383.9 694.5,379.4 693.4,371.5 692.2,364.8 690.0,360.2 687.8,364.8 685.5,372.6 682.1,376.0 677.6,372.6 673.1,369.2 674.2,365.9 675.4,362.5 669.8,362.5 666.4,361.4 660.8,364.8 658.5,369.2 654.0,368.1 648.4,370.4 642.8,373.8 639.4,379.4 633.8,382.8 627.0,385.0 620.2,388.4 618.0,394.0Z" fill="#7bccc4"/>
<path d="M668.6,444.6 672.0,443.5 675.4,441.2 676.5,437.9 672.0,437.9 668.6,439.0 667.5,442.4Z" fill="#7bccc4"/>
<path d="M737.2,432.2 733.9,435.6 732.8,439.0 735.0,439.0 739.5,435.6 744.0,432.2 746.2,428.9 742.9,427.8 741.8,424.4 739.5,421.0 738.4,427.8Z" fill="#7bccc4"/>
<path d="M719.2,442.4 712.5,445.8 706.9,449.1 705.8,451.4 710.2,451.4 715.9,448.0 721.5,444.6 726.0,442.4 730.5,440.1 729.4,436.8 724.9,439.0Z" fill="#7bccc4"/>
<path d="M738.8,388.8 740.0,388.1 736.2,383.8 734.4,383.1 735.0,385.6Z" fill="#a8ddb5"/>
<path d="M745.0,373.1 744.4,369.4 743.1,369.4 743.8,373.1Z" fill="#a8ddb5"/>
<path d="M769.4,378.1 768.8,376.2 766.2,376.9 766.9,378.8Z" fill="#a8ddb5"/>
<path d="M773.8,373.1 770.0,373.8 772.5,374.4Z" fill="#a8ddb5"/>
<path d="M654.0,353.8 655.2,352.0 654.1,352.3 654.1,352.3 653.0,352.6 652.4,352.9 651.7,353.2 651.7,353.2 651.0,353.5 651.0,353.6 651.5,354.6Z" fill="#fbfccf"/>
<path d="M184.6,316.0 182.9,320.9 181.3,325.7 179.7,329.0 177.3,333.0 176.5,337.0 177.5,340.5 176.5,342.0 177.3,344.3 179.7,348.4 183.7,353.2 187.8,359.7 192.6,366.1 197.5,371.0 201.5,375.0 204.0,375.8 203.8,377.3 204.8,384.7 205.7,392.0 205.7,399.3 204.8,406.7 205.7,414.0 204.8,421.3 205.7,428.7 206.6,436.0 207.5,443.3 208.4,450.7 210.3,458.0 213.9,463.5 217.6,467.2 221.3,469.9 224.9,471.8 229.5,474.5 233.2,474.5 236.8,473.6 234.1,472.7 229.5,470.8 227.7,467.2 226.8,465.3 224.9,461.7 224.0,458.0 225.8,454.3 224.9,450.7 225.8,447.0 227.7,443.3 228.6,440.6 226.8,437.8 228.6,434.2 232.2,432.3 236.8,431.4 239.6,428.7 237.8,425.0 235.0,423.2 235.9,418.6 238.7,421.3 243.3,421.3 246.0,418.6 247.8,415.8 250.6,410.3 253.3,404.8 254.3,399.3 257.0,393.8 262.5,391.1 268.0,389.3 269.8,384.7 272.6,377.3 273.5,371.0 274.3,364.5 276.7,359.7 279.9,354.8 282.4,350.0 281.6,345.1 278.3,341.9 273.5,339.5 267.0,337.8 262.2,336.2 257.3,333.8 251.6,331.4 247.6,329.0 246.0,324.1 244.4,321.7 242.8,319.3 239.5,316.8 236.3,317.6 234.7,316.0 230.6,316.0 229.0,312.8 226.6,309.6 224.2,307.1 221.7,303.1 218.5,302.3 213.7,303.1 208.8,303.9 204.0,303.1 200.7,300.7 199.1,298.2 195.9,301.5 191.0,302.3 187.8,304.7 185.4,307.1 185.0,308.1 183.7,311.2Z" fill="#e0f3db"/>
<path d="M191.0,302.3 187.8,304.7 185.4,307.1 185.0,308.1 183.7,311.2 184.6,316.0 182.9,320.9 181.3,325.7 179.7,329.0 182.1,327.3 186.2,329.8 189.4,332.2 193.4,334.6 196.7,337.0 199.9,338.7 200.7,336.2 199.9,333.0 201.5,329.8 204.0,327.3 207.2,326.5 208.0,324.1 206.4,320.9 206.4,314.4 203.1,312.8 199.9,311.2 197.5,307.9 196.7,304.7 198.3,301.5 200.7,300.7 199.1,298.2 195.9,301.5Z" fill="#7bccc4"/>
<path d="M197.5,307.9 199.9,311.2 203.1,312.8 206.4,314.4 206.4,320.9 208.0,324.1 207.2,326.5 208.8,328.1 211.2,326.5 213.7,323.3 216.1,320.9 218.5,321.7 221.7,319.3 224.2,316.0 223.4,311.2 224.2,307.1 221.7,303.1 218.5,302.3 213.7,303.1 208.8,303.9 204.0,303.1 200.7,300.7 198.3,301.5 196.7,304.7Z" fill="#a8ddb5"/>
<path d="M224.2,316.0 221.7,319.3 225.0,321.7 225.8,326.5 228.2,325.7 229.8,320.9 230.6,316.0 229.0,312.8 226.6,309.6 224.2,307.1 223.4,311.2Z" fill="#fbfccf"/>
<path d="M231.4,325.7 234.7,324.9 237.1,324.1 236.3,317.6 234.7,316.0 230.6,316.0 229.8,320.9Z" fill="#fbfccf"/>
<path d="M239.5,325.7 242.0,324.1 244.4,321.7 242.8,319.3 239.5,316.8 236.3,317.6 237.1,324.1Z" fill="#fbfccf"/>
<path d="M176.5,337.0 177.5,340.5 180.5,342.7 182.9,338.7 186.2,335.4 189.4,333.0 186.2,329.8 182.1,327.3 179.7,329.0 177.3,333.0Z" fill="#7bccc4"/>
<path d="M179.7,348.4 183.7,353.2 187.8,359.7 192.6,366.1 197.5,371.0 201.5,375.0 204.0,375.8 205.6,371.0 204.8,364.5 204.0,358.1 201.5,357.2 198.3,354.8 195.1,350.8 194.3,346.7 196.7,344.3 199.1,341.9 199.9,338.7 196.7,337.0 193.4,334.6 189.4,333.0 186.2,335.4 182.9,338.7 180.5,342.7 177.5,340.5 176.5,342.0 177.3,344.3Z" fill="#a8ddb5"/>
<path d="M201.5,329.8 199.9,333.0 200.7,336.2 199.9,338.7 199.1,341.9 196.7,344.3 194.3,346.7 195.1,350.8 198.3,354.8 201.5,357.2 204.0,358.1 208.8,356.4 211.2,358.9 213.7,362.1 216.9,364.5 221.7,367.0 225.0,370.2 225.8,374.2 226.8,375.5 229.5,379.2 231.3,382.8 233.2,387.4 235.0,390.2 238.7,393.8 241.4,397.5 243.3,400.3 240.5,404.8 236.8,409.4 239.6,411.3 243.3,414.0 246.0,418.6 247.8,415.8 250.6,410.3 253.3,404.8 254.3,399.3 257.0,393.8 262.5,391.1 268.0,389.3 269.8,384.7 272.6,377.3 273.5,371.0 274.3,364.5 276.7,359.7 279.9,354.8 282.4,350.0 281.6,345.1 278.3,341.9 273.5,339.5 267.0,337.8 262.2,336.2 257.3,333.8 251.6,331.4 247.6,329.0 246.0,324.1 244.4,321.7 242.0,324.1 239.5,325.7 237.1,324.1 234.7,324.9 231.4,325.7 228.2,325.7 225.8,326.5 225.0,321.7 221.7,319.3 218.5,321.7 216.1,320.9 213.7,323.3 211.2,326.5 208.8,328.1 207.2,326.5 204.0,327.3Z" fill="#4eb3d3"/>
<path d="M205.6,371.0 204.0,375.8 204.8,377.3 207.5,384.7 209.3,388.3 213.9,389.3 218.5,388.3 222.2,387.4 222.2,382.8 224.0,381.9 227.7,381.0 229.5,379.2 226.8,375.5 225.8,374.2 225.0,370.2 221.7,367.0 216.9,364.5 213.7,362.1 211.2,358.9 208.8,356.4 204.0,358.1 204.8,364.5Z" fill="#ccebc5"/>
<path d="M223.1,390.2 225.8,392.9 229.5,395.7 233.2,399.3 235.0,402.0 238.7,401.2 241.4,397.5 238.7,393.8 235.0,390.2 233.2,387.4 231.3,382.8 229.5,379.2 227.7,381.0 224.0,381.9 222.2,382.8 222.2,387.4Z" fill="#fbfccf"/>
<path d="M235.9,418.6 238.7,421.3 243.3,421.3 246.0,418.6 243.3,414.0 239.6,411.3 236.8,409.4 235.0,414.0Z" fill="#fbfccf"/>
<path d="M193.9,282.4 195.8,282.8 198.8,282.8 200.2,284.2 202.5,282.8 205.5,283.1 207.4,282.4 205.5,280.5 202.5,278.6 199.5,278.6 196.5,279.4 198.0,280.9Z" fill="#e0f3db"/>
<path d="M211.5,283.9 214.1,283.1 213.0,282.4 210.0,282.8 210.0,283.5Z" fill="#e0f3db"/>
<path d="M188.2,261.9 190.5,262.5 190.9,261.4 189.0,260.2 186.4,260.6 186.6,261.8Z" fill="#fbfccf"/>
<path d="M187.9,268.5 189.0,268.1 188.2,265.5 186.8,265.1 187.1,267.0Z" fill="#fbfccf"/>
<path d="M10.0,281.5 11.5,280.5 12.0,279.2 10.5,278.2 9.3,279.0 9.2,280.5Z" fill="#7bccc4"/>
<path d="M3.2,274.0 3.0,272.8 1.8,273.0 2.0,274.3Z" fill="#7bccc4"/>
<path d="M6.5,275.5 8.0,276.5 9.8,277.0 9.5,276.0 7.8,275.5 6.5,274.5 5.0,274.0 5.0,275.2Z" fill="#7bccc4"/>
<path d="M443.8,255.0 447.5,261.2 451.2,268.8 455.0,275.0 457.5,280.0 460.0,286.2 460.5,285.0 462.0,286.0 467.0,285.0 472.0,284.0 478.0,283.0 483.0,281.0 486.0,277.0 489.0,273.0 486.0,270.0 483.0,268.0 481.0,266.0 479.0,263.0 476.0,259.0 473.0,256.0 470.0,255.0 465.0,254.0 460.0,252.0 456.0,250.0 452.0,248.0 447.0,247.0 441.0,248.0 441.5,250.0Z" fill="#e0f3db"/>
<path d="M460.0,286.2 461.2,291.2 462.5,296.2 463.0,296.5 470.0,294.0 478.0,291.0 483.0,288.0 485.0,284.0 483.0,281.0 478.0,283.0 472.0,284.0 467.0,285.0 462.0,286.0 460.5,285.0Z" fill="#e0f3db"/>
<path d="M222.9,284.8 222.9,283.8 221.9,283.8 221.9,284.8Z" fill="#fbfccf"/>
<path d="M223.2,287.0 223.2,286.0 222.2,286.0 222.2,287.0Z" fill="#fbfccf"/>
<path d="M223.2,290.8 223.2,289.8 222.2,289.8 222.2,290.8Z" fill="#fbfccf"/>
<path d="M224.0,294.9 224.0,293.9 223.0,293.9 223.0,294.9Z" fill="#fbfccf"/>
<path d="M223.2,296.8 223.2,295.8 222.2,295.8 222.2,296.8Z" fill="#fbfccf"/>
<path d="M227.0,296.8 227.0,295.8 226.0,295.8 226.0,296.8Z" fill="#fbfccf"/>
<path d="M221.8,300.1 221.8,299.1 220.8,299.1 220.8,300.1Z" fill="#fbfccf"/>
<path d="M376.0,192.0 377.0,195.0 376.0,198.0M371.0,197.0 376.0,198.0 377.0,201.0 379.0,204.0M381.0,189.5 385.0,190.0M391.0,190.0 391.5,193.0 392.0,198.0 391.5,199.0M387.5,199.5 390.0,198.5 391.5,199.0 395.0,200.5 400.0,202.0M390.0,204.0 395.0,203.5 399.0,203.0 400.0,202.0M379.5,204.5 383.0,204.5 387.5,204.0 390.0,204.0 394.0,204.0M400.0,202.0 404.0,202.0 408.0,202.0M403.0,189.0 408.0,190.0 409.0,195.0 409.5,198.0 408.0,202.0M404.0,186.0 410.0,186.0 414.0,187.0M405.0,182.5 410.0,182.0 414.0,182.5M414.0,179.0 415.0,182.5 416.0,186.0M408.0,190.0 410.0,189.0 414.0,187.0 416.0,186.0 420.0,187.0 424.0,190.0 426.0,193.5M409.0,195.0 412.0,195.5 417.0,196.0 422.0,195.5 426.0,193.5 430.0,195.0 434.0,197.0 440.0,200.0 444.0,204.0 441.0,207.0 442.0,209.0M377.5,208.2 381.3,207.6 384.5,208.2 387.7,207.0 390.2,207.6 392.1,208.9M392.1,208.2 395.9,207.6M390.8,211.4 392.1,210.8 394.6,210.8 396.6,210.1M396.6,210.1 400.4,211.4 402.9,212.0M395.9,213.3 399.1,212.7 402.2,212.7 402.9,215.2 403.5,217.7 402.9,219.0 401.6,220.3M402.9,212.7 404.1,215.2 404.8,217.7 405.4,219.7 404.8,220.9M402.9,212.0 406.1,210.1 407.3,211.4 409.2,213.9 410.5,216.5 411.1,217.7M411.1,217.7 410.5,219.0 410.5,220.9 409.9,222.2M405.4,219.7 406.7,220.9 407.9,221.6 409.9,222.2 410.5,224.1M405.4,226.6 407.3,225.3 409.2,224.7 410.5,224.1M410.5,224.1 413.0,223.4 416.2,222.8 418.7,222.2M411.1,217.7 414.3,218.4 418.1,217.7 420.6,217.1M406.1,210.1 407.3,207.0 409.2,205.7M409.2,205.7 413.0,205.1 416.8,205.1 419.4,205.7 420.6,208.2 421.9,210.8 423.2,212.7M395.9,207.6 396.6,205.1 395.9,203.2M396.6,204.4 400.4,203.8 403.5,204.4 406.7,204.4 409.2,205.7M419.4,205.7 418.7,208.2 420.0,210.8M418.7,222.2 419.4,223.4M383.2,177.0 384.5,174.0 384.2,170.0 385.0,166.0 387.0,163.5 390.0,160.0 392.0,157.0 396.0,155.5 399.0,155.0 402.0,153.5M406.0,163.5 405.0,160.0 403.0,157.0 402.0,154.0 403.0,152.0 407.0,151.0M407.0,151.0 412.0,153.0 414.0,157.0 416.0,161.0 417.0,165.0 419.0,169.0 417.0,173.0 414.0,176.0M460.6,211.2 457.5,206.2 456.9,201.9 458.8,198.8 463.8,196.9 470.0,197.5 477.5,198.1 482.5,198.8 485.0,197.5 483.8,193.8 482.5,191.2 486.2,190.0M486.2,190.0 495.0,188.8 500.0,187.5 510.0,188.8 515.0,192.5 522.5,195.0 530.0,197.5 535.0,200.0 537.5,202.5M476.2,223.8 478.8,221.9 480.0,218.8 479.4,215.0 480.0,213.1 483.8,212.5 488.8,215.0 492.5,216.9 496.2,216.2 500.0,217.5 502.5,220.0 505.0,223.1 507.5,222.5 510.0,220.0 513.8,218.8 517.5,218.8 521.2,218.1 525.0,217.5 528.8,216.2M480.0,218.8 485.0,221.2 488.8,223.8 492.5,226.2 496.2,227.5 500.0,228.8 503.8,231.2M477.5,232.5 482.5,231.2 487.5,231.9 492.5,233.8 496.2,236.2M496.2,236.2 500.0,234.4 503.8,232.5 506.2,233.1M503.8,231.2 507.5,229.4 510.0,227.5 511.2,224.4 510.0,221.9 507.5,222.5M507.5,222.5 512.5,223.8 517.5,224.4 520.0,223.8M510.0,230.0 515.0,231.2 520.0,230.0 523.8,231.2M496.2,236.2 496.2,242.5 498.1,247.5 498.1,251.2 500.0,253.8M500.0,253.8 505.0,253.1 510.0,251.2 512.5,247.5 516.2,242.5 517.5,237.5 520.0,233.8 523.8,231.2M500.0,253.8 501.2,257.5 501.2,261.2 501.9,265.0M458.8,227.5 460.0,232.5 462.5,237.5 463.8,242.5 466.2,248.8 468.8,252.5M448.8,218.1 455.0,219.4 460.0,221.2M450.0,222.5 455.0,223.8 456.9,226.2 458.8,227.5M455.0,220.6 455.6,223.8M442.5,232.5 447.5,233.1 452.5,232.5 456.2,231.2 458.8,227.5M452.5,232.5 453.1,236.2 452.5,240.0 448.8,243.8 446.2,245.0M441.9,239.4 443.8,241.2 446.2,245.0M446.2,245.0 450.0,246.2 455.0,247.5 460.0,250.0 465.0,251.2 468.8,252.5M441.2,241.2 440.6,246.2 440.0,250.0M418.1,248.8 418.8,257.5 419.4,272.5 419.4,278.8M419.4,273.1 432.5,273.1 446.2,273.1M385.0,268.8 390.0,270.0 396.9,270.6 407.5,275.0 418.8,278.8M418.1,278.8 417.5,285.0 416.9,288.8 415.0,291.9 413.8,296.2 415.0,300.0 417.5,303.8M396.9,270.6 397.5,276.2 398.8,282.5 396.9,287.5 395.0,292.5 394.4,295.0M394.4,295.0 396.2,297.5 397.5,301.2 396.9,305.0 397.5,310.0M397.5,310.0 403.8,310.6 408.8,308.1 413.8,303.8 417.5,303.8M416.2,305.0 420.0,303.8 423.8,305.0 427.5,306.2 431.2,305.0 435.0,303.8 437.5,300.0 440.0,302.5M446.2,283.8 446.9,288.8 446.2,292.5 443.8,297.5 441.2,300.0 440.0,302.5M446.2,292.5 451.2,293.8 456.2,295.0 460.0,297.5M417.5,303.8 420.0,308.8 423.8,313.8 427.5,317.5M440.0,302.5 440.0,307.5 440.0,311.2 442.5,315.0 443.8,318.8M432.5,317.5 437.5,317.5 443.8,318.8M460.0,297.5 461.2,300.0M461.2,301.2 466.2,302.5 472.5,306.2 471.2,310.0M397.5,310.0 399.0,315.0 400.0,318.0 401.0,323.0 405.0,321.0M385.0,324.4 390.0,324.4 395.0,324.4 401.0,323.0M390.0,324.4 391.0,328.0 393.0,331.0 396.0,332.0 399.0,331.0 401.0,332.0M391.0,338.0 393.0,336.0 396.0,336.0 396.0,342.0M412.0,379.0 409.0,379.0 408.0,390.0 407.0,400.0M421.0,378.0 423.0,383.0 428.0,387.0M334.0,258.5 344.0,258.5M343.8,260.0 343.1,261.2 336.2,262.5 335.6,265.0 333.8,269.4 333.1,275.0 325.0,275.2M349.4,265.0 350.0,275.0 350.0,290.0M350.0,290.0 336.2,290.6 332.5,288.1 327.5,287.5 325.0,289.4M372.5,280.6 371.9,289.4 368.8,290.6 363.8,291.9M363.8,291.9 360.0,291.2 356.2,293.1 352.5,296.2 351.2,300.0M350.0,290.0 345.0,291.2 336.2,291.9 335.6,294.4 336.2,297.5 342.5,298.1 345.0,300.0 348.8,301.2 351.2,300.0M363.8,291.9 363.1,295.0 365.0,297.5 367.5,298.8 370.0,297.5 371.2,295.6M325.0,298.8 330.0,298.1M324.0,295.3 331.0,295.5M324.0,297.0 331.0,296.8M332.5,304.4 335.0,305.0 337.5,306.2M337.5,306.2 338.8,309.4 340.6,310.6M342.5,308.8 343.8,312.5 345.0,317.5M342.5,298.1 343.8,302.5 344.4,305.0 342.5,308.8 340.0,307.5 337.5,306.2M356.2,303.1 355.6,307.5 356.2,312.5 356.2,317.5M345.0,304.4 350.0,303.8 353.8,303.1 356.2,303.1M356.2,301.2 362.5,301.2 365.0,300.0M362.5,301.2 363.1,307.5 363.8,315.0M365.0,300.0 365.0,307.5 365.6,315.0M388.5,246.0 385.0,249.0 384.0,250.0M380.0,234.0 381.0,237.0 380.0,242.0M207.5,384.7 209.3,390.2 209.3,397.5 208.4,404.8 209.3,414.0 209.3,423.2 210.3,430.5 211.2,439.7 213.0,445.2 213.9,450.7 214.8,458.0 218.5,463.5 224.0,467.2 225.8,468.1 226.3,474.3M114.0,185.4 113.5,182.7 112.9,179.1 110.6,177.3 107.1,176.8 105.3,174.4 126.9,154.5M110.6,177.3 112.9,179.1 113.5,182.7 114.0,185.4M112.6,203.2 172.5,203.2 180.0,204.4 185.0,205.6 190.0,208.8 192.5,213.8 188.8,221.2 193.8,219.4 198.8,217.5 205.0,215.0 211.2,213.8 216.2,212.5 221.2,210.0 223.1,208.2M126.9,154.5 105.3,174.4 107.1,176.8 110.6,177.3M106.4,245.1 112.5,246.2 118.8,248.1 125.0,247.5 128.8,248.8 132.5,253.1 136.2,252.5 138.8,255.0 141.2,260.0 143.7,262.5M223.1,208.2 221.2,210.0 216.2,212.5 211.2,213.8 205.0,215.0 198.8,217.5 193.8,219.4 188.8,221.2 192.5,213.8 190.0,208.8 185.0,205.6 180.0,204.4 172.5,203.2 112.6,203.2M152.9,290.0 153.8,288.8 155.6,286.9 156.9,285.0 158.8,285.0 160.6,283.6M143.7,262.5 141.2,260.0 138.8,255.0 136.2,252.5 132.5,253.1 128.8,248.8 125.0,247.5 118.8,248.1 112.5,246.2 106.4,245.1M157.2,293.9 157.3,293.9M159.3,291.3 160.1,290.6M159.2,287.3 158.8,285.0 156.9,285.0 155.6,286.9 153.8,288.8 152.9,290.0M160.6,283.6 158.8,285.0 159.2,287.3M164.3,295.7 165.0,295.0 167.5,293.8 170.0,292.5 171.6,292.1M160.1,290.6 159.3,291.3M157.3,293.9 157.2,293.9M168.3,301.9 169.2,301.9M171.6,292.1 170.0,292.5 167.5,293.8 165.0,295.0 164.3,295.7M169.2,301.9 168.3,301.9M184.7,310.0 185.6,309.4 185.3,308.8M453.0,345.1 453.0,344.0 453.1,343.5M441.3,249.2 440.7,246.9M358.0,245.0 355.0,249.0 349.0,253.0 344.0,256.0 344.0,260.0 350.0,264.0 359.0,269.0 366.0,274.0 373.0,280.0 378.0,274.0 382.0,270.0 389.0,265.0 386.0,256.0 385.0,250.0 384.0,246.0 381.0,240.0 382.0,234.1M365.3,235.3 359.0,237.0 360.0,241.0 358.0,245.0M371.0,304.0 370.0,310.0 371.0,316.0 372.9,317.9M378.9,319.0 380.0,319.0 384.0,316.0 387.0,312.0 389.0,308.0 393.0,304.0 395.0,300.0 394.0,296.0 390.0,294.0 384.0,295.0 378.0,295.0 371.0,296.0 370.0,299.0 371.0,304.0M389.0,308.0 387.0,312.0 384.3,319.3M386.8,324.1 392.0,324.4 398.0,324.0 401.0,323.0 400.0,318.0 399.0,312.0 396.0,308.0 397.0,304.0 395.0,300.0 393.0,304.0 389.0,308.0M442.0,304.0 441.0,310.0 445.0,314.0 450.0,318.0 454.0,320.0 460.0,318.0 466.0,314.0 472.0,310.0 468.0,308.0 463.0,303.0 460.0,299.0 458.0,294.0 452.0,292.0 448.0,294.0 445.0,299.0 442.0,304.0M401.0,332.0 400.0,340.0 396.0,342.0 392.6,345.4M392.8,345.8 396.0,345.0 400.0,346.0 405.0,350.0 412.0,349.0 413.0,357.0 417.0,360.0 419.0,360.0 424.0,361.0 429.0,364.0 428.0,358.0 429.0,353.0 430.0,347.0 430.0,340.0 431.0,334.0 433.0,328.0 434.0,322.0 430.0,320.0 422.0,318.0 412.0,319.0 405.0,321.0 403.0,326.0 401.0,332.0M390.0,372.4 390.0,374.7M390.6,376.9 398.0,376.0 406.0,377.0 414.0,376.0 413.0,370.0 414.0,364.0 413.0,357.0 412.0,349.0 405.0,350.0 400.0,346.0 396.0,345.0 392.8,345.8M414.0,376.0 419.0,377.0 424.0,376.0 430.0,372.0 434.0,369.0 439.0,365.0 438.0,360.0 436.0,354.0 430.0,353.0 429.0,364.0 424.0,361.0 418.0,361.0 413.0,364.0 413.0,370.0 414.0,376.0M431.0,344.0 432.0,350.0 436.0,354.0 439.0,359.0 444.0,360.0 450.0,359.0 453.7,356.2M453.1,339.5 453.0,339.0 446.0,335.0 438.0,334.0 433.0,334.0 431.0,339.0 431.0,344.0M442.0,333.0 446.0,335.0 453.0,338.0 456.0,332.0 458.0,328.0 458.0,321.0 454.0,319.0 446.0,319.0 442.0,321.0 442.0,328.0 442.0,333.0M433.0,334.0 438.0,334.0 442.0,333.0 442.0,328.0 442.0,321.0 434.0,322.0 433.0,328.0 433.0,334.0M443.0,368.0 444.0,373.0 441.0,374.0 439.0,376.0 436.0,382.0 432.0,386.0 434.0,390.0 434.0,398.0 435.5,400.3M453.7,356.2 450.0,359.0 444.0,360.0 441.0,362.0 443.0,368.0M439.0,369.0 441.0,374.0 444.0,373.0 443.0,368.0 441.0,362.0 439.0,359.0 438.0,362.0 439.0,369.0M435.5,400.3 434.0,398.0 434.0,390.0 432.0,386.0 428.0,387.0 424.0,390.0 418.0,394.0 414.0,398.0 410.0,400.0 407.0,400.0 404.0,404.0 400.7,407.3M428.0,408.4 426.0,406.0 423.0,408.0 425.0,410.0 428.0,408.4M431.0,341.0 432.5,342.0 433.5,338.0 433.0,334.5 430.5,335.0 430.5,338.0 431.0,341.0M446.2,292.5 451.2,293.8 456.2,295.0 460.0,297.5 460.4,297.5M451.5,282.7 446.9,283.8 446.9,288.8 446.2,292.5M461.0,301.0 461.4,300.6M460.4,297.7 460.0,297.5 459.5,300.0 461.0,301.0M377.1,214.9 377.2,214.5M440.0,247.8 440.0,248.0 441.0,249.4M360.8,218.4 363.8,219.4 366.6,219.9M377.9,213.5 377.5,211.2 376.9,208.8 377.5,205.0 376.2,202.5 373.1,200.0 371.2,198.1 368.8,198.8 366.4,199.9M348.8,220.0 347.5,223.8 348.8,227.5 347.5,232.5 347.7,233.2M366.6,219.9 363.8,219.4 360.8,218.4M345.0,218.1 348.8,220.0M347.5,233.0 348.8,227.5 347.5,223.8 348.8,220.0 344.1,220.0M520.0,230.0 525.0,235.0 527.5,240.0 532.0,240.0 535.0,243.0 537.0,247.0 542.0,251.0 548.0,254.0 554.0,257.0 560.0,258.0 562.0,257.0 568.0,256.0 574.0,255.0 579.0,257.2 580.5,258.0 582.8,261.0 582.4,265.5 585.0,268.9 588.0,272.2 590.2,274.5 592.5,272.6 596.2,271.1 600.0,269.6 603.0,271.1 605.2,273.8 607.5,274.5 608.5,274.2M628.6,225.3 629.0,224.5 631.2,222.6 633.5,221.1 635.8,220.0 637.2,219.2 636.5,217.0 635.4,214.8 636.1,213.2 638.0,209.5 637.2,205.0 634.0,205.0 628.0,204.0 622.0,200.0 616.0,196.0 610.0,193.0 604.0,192.0 600.0,195.0 599.0,201.0 602.0,205.0 607.0,207.0 606.0,209.0 600.0,212.0 596.0,215.0 592.0,219.0 584.0,221.0 576.0,219.0 566.0,217.0 556.0,214.0 548.0,210.0 540.0,202.5 537.5,206.2 533.8,212.5 530.0,216.2 525.0,220.0 522.5,225.0 520.0,230.0M556.0,214.0 566.0,217.0 576.0,219.0 584.0,221.0 592.0,219.0 596.0,215.0 600.0,212.0 606.0,209.0 607.0,207.0 602.0,205.0 599.0,201.0 600.0,195.0 598.0,194.0 594.0,196.0 588.0,200.0 580.0,200.0 572.0,199.0 566.0,199.0 560.0,196.0 552.0,199.0 546.0,199.0 540.0,201.2 548.0,210.0 556.0,214.0M562.8,270.2 562.0,267.0 562.0,264.0 565.0,263.5 568.0,265.0 569.5,268.0 569.9,271.2M571.7,273.3 572.2,270.0 573.0,265.5 574.5,261.0 577.5,258.0 579.0,257.2 576.0,255.0 570.0,256.0 564.0,257.0 560.0,258.0 554.0,257.0 548.0,254.0 542.0,251.0 537.0,247.0 535.0,243.0 532.0,240.0 530.0,243.0 528.0,247.0 527.0,252.0 524.0,257.0 519.0,260.0 520.0,263.0 518.4,266.3M547.0,258.0 553.0,260.0 559.0,260.0 560.0,257.0 554.0,255.0 548.0,252.0 542.0,251.0 543.0,255.0 547.0,258.0M569.9,271.2 569.5,268.0 568.0,265.0 565.0,263.5 562.0,264.0 562.0,267.0 562.8,270.2M567.0,257.0 565.0,255.5 561.0,256.0 563.0,258.5 567.0,257.0M574.5,261.0 573.0,265.5 572.2,270.0 571.7,273.3M588.0,303.5 588.0,303.0 588.8,300.0 589.5,298.5 588.8,295.5 587.2,292.5 586.5,289.5 585.0,286.5 584.2,282.8 585.0,279.8 588.0,277.5 589.9,276.8 590.2,274.5 588.0,272.2 585.0,268.9 582.4,265.5 582.8,261.0 580.5,258.0 579.0,257.2 577.5,258.0 574.5,261.0M585.0,279.8 584.2,282.8 585.0,286.5 586.5,289.5 587.2,292.5 588.8,295.5 589.5,298.5 588.8,300.0 588.0,303.0 588.0,303.5M598.7,300.1 598.5,299.2 597.8,296.2 598.5,294.0 601.5,293.2 604.5,293.2 603.0,290.2 601.5,287.2 600.0,284.2 597.8,283.5 595.5,283.5 593.2,282.0 592.5,279.0 591.0,277.5 589.9,276.8 588.0,277.5 585.0,279.8M591.0,277.5 592.5,279.0 593.2,282.0 595.5,283.5 597.8,283.5 600.0,284.2 601.5,287.2 603.0,290.2 604.5,293.2 606.8,294.0 608.2,292.5 607.5,289.5 605.2,286.5 602.2,283.5 600.0,280.5 598.5,277.5 595.5,276.0 594.0,273.0 592.5,272.6 590.2,274.5 589.9,276.8 591.0,277.5M598.5,299.2 598.7,300.1M606.4,302.3 607.5,300.0 609.0,297.8 608.2,294.8 606.8,294.0 604.5,293.2 601.5,293.2 598.5,294.0 597.8,296.2 598.5,299.2M598.5,277.5 600.0,280.5 602.2,283.5 605.2,286.5 607.5,289.5 608.2,292.5 606.8,294.0 608.2,294.8 609.0,297.8 607.5,300.0 606.4,302.3M608.5,274.2 607.5,274.5 605.2,273.8 603.0,271.1 600.0,269.6 596.2,271.1 594.0,273.0 595.5,276.0 598.5,277.5M593.6,313.6 593.5,313.6M648.8,243.6 649.6,244.8 649.8,244.7M633.5,221.1 631.2,222.6 629.0,224.5 628.6,225.3M635.0,230.6 636.5,230.0M637.3,219.3 637.2,219.2 635.8,220.0 633.5,221.1M636.5,230.0 635.0,230.6M650.1,243.7 649.6,243.3M616.6,327.9 620.0,327.5 623.8,327.1 626.8,326.0 629.0,323.0 630.5,320.8 632.8,320.0 633.5,320.0M615.5,327.7 616.6,327.9M629.0,318.9 628.8,317.9M627.8,319.1 627.9,319.2 629.0,318.9M687.1,353.1 687.8,338.2M687.8,338.2 687.1,353.1M651.4,354.3 651.5,354.6M184.7,308.8 184.3,309.7M184.7,308.8 184.3,309.7M181.1,328.0 182.1,327.3 186.2,329.8 189.4,332.2 193.4,334.6 196.7,337.0 199.9,338.7 200.7,336.2 199.9,333.0 201.5,329.8 204.0,327.3 207.2,326.5 208.0,324.1 206.4,320.9 206.4,314.4 203.1,312.8 199.9,311.2 197.5,307.9 196.7,304.7 198.3,301.5 199.9,301.0M197.5,307.9 199.9,311.2 203.1,312.8 206.4,314.4 206.4,320.9 208.0,324.1 207.2,326.5 208.8,328.1 211.2,326.5 213.7,323.3 216.1,320.9 218.5,321.7 221.7,319.3 224.2,316.0 223.4,311.2 224.0,308.1M199.9,301.0 198.3,301.5 196.7,304.7 197.5,307.9M224.2,316.0 221.7,319.3 225.0,321.7 225.8,326.5 228.2,325.7 229.8,320.9 230.5,316.8M224.0,308.1 223.4,311.2 224.2,316.0M231.4,325.7 234.7,324.9 237.1,324.1 236.4,318.4M230.5,316.8 229.8,320.9 231.4,325.7M239.5,325.7 242.0,324.1 243.8,322.3M236.4,318.4 237.1,324.1 239.5,325.7M178.1,341.0 180.5,342.7 182.9,338.7 186.2,335.4 189.4,333.0 186.2,329.8 182.1,327.3 181.1,328.0M204.3,375.0 205.6,371.0 204.8,364.5 204.0,358.1 201.5,357.2 198.3,354.8 195.1,350.8 194.3,346.7 196.7,344.3 199.1,341.9 199.9,338.7 196.7,337.0 193.4,334.6 189.4,333.0 186.2,335.4 182.9,338.7 180.5,342.7 178.1,341.0M201.5,329.8 199.9,333.0 200.7,336.2 199.9,338.7 199.1,341.9 196.7,344.3 194.3,346.7 195.1,350.8 198.3,354.8 201.5,357.2 204.0,358.1 208.8,356.4 211.2,358.9 213.7,362.1 216.9,364.5 221.7,367.0 225.0,370.2 225.8,374.2 226.8,375.5 229.5,379.2 231.3,382.8 233.2,387.4 235.0,390.2 238.7,393.8 241.4,397.5 243.3,400.3 240.5,404.8 236.8,409.4 239.6,411.3 243.3,414.0 245.5,417.8M243.8,322.3 242.0,324.1 239.5,325.7 237.1,324.1 234.7,324.9 231.4,325.7 228.2,325.7 225.8,326.5 225.0,321.7 221.7,319.3 218.5,321.7 216.1,320.9 213.7,323.3 211.2,326.5 208.8,328.1 207.2,326.5 204.0,327.3 201.5,329.8M205.6,371.0 204.3,375.0M204.6,377.0 204.8,377.3 207.5,384.7 209.3,388.3 213.9,389.3 218.5,388.3 222.2,387.4 222.2,382.8 224.0,381.9 227.7,381.0 229.5,379.2 226.8,375.5 225.8,374.2 225.0,370.2 221.7,367.0 216.9,364.5 213.7,362.1 211.2,358.9 208.8,356.4 204.0,358.1 204.8,364.5 205.6,371.0M223.1,390.2 225.8,392.9 229.5,395.7 233.2,399.3 235.0,402.0 238.7,401.2 241.4,397.5 238.7,393.8 235.0,390.2 233.2,387.4 231.3,382.8 229.5,379.2 227.7,381.0 224.0,381.9 222.2,382.8 222.2,387.4 223.1,390.2M245.5,417.8 243.3,414.0 239.6,411.3 236.8,409.4 235.0,414.0 235.7,417.8M460.4,285.2 460.5,285.0 462.0,286.0 467.0,285.0 472.0,284.0 478.0,283.0 483.0,281.0 486.0,277.0 489.0,273.0 486.0,270.0 483.7,268.5M472.7,255.9 470.0,255.0 465.0,254.0 460.0,252.0 456.0,250.0 452.0,248.0 447.0,247.0 441.0,248.0 441.3,249.2M483.9,286.3 485.0,284.0 483.0,281.0 478.0,283.0 472.0,284.0 467.0,285.0 462.0,286.0 460.5,285.0 460.4,285.2" fill="none" stroke="#5e5e5e" stroke-width="0.5" stroke-linejoin="round"/>
<path d="M208.5,135.1 211.5,136.2 215.0,135.7 212.7,134.5 208.5,135.1M201.5,135.7 198.5,135.1 193.8,136.2 195.0,137.4 198.5,137.4 201.5,135.7M217.3,136.2 219.1,138.0 222.1,137.4 220.3,135.7 217.3,136.2M182.1,140.3 187.9,139.2 189.1,137.4 182.1,138.0 176.2,139.8 177.3,140.9 182.1,140.3M212.7,142.1 216.2,141.5 213.8,139.8 209.1,139.2 205.6,140.9 207.9,142.1 212.7,142.1M183.2,143.3 190.3,143.3 197.3,142.7 199.7,140.9 193.8,140.3 187.9,140.9 180.9,142.1 183.2,143.3M213.2,148.0 216.8,147.4 217.3,145.1 213.8,144.5 210.3,145.7 210.9,147.4 213.2,148.0M207.3,148.6 207.9,145.7 203.2,145.4 199.7,146.8 200.9,149.8 204.4,150.3 207.3,148.6M185.6,155.7 190.3,154.5 192.7,153.3 195.0,150.9 193.8,148.6 196.2,146.2 193.8,145.7 189.1,146.8 184.4,147.4 180.3,146.8 178.5,145.1 173.8,143.9 167.9,144.5 163.2,146.8 159.7,149.8 161.5,151.5 165.6,151.5 169.1,151.5 166.8,153.3 167.9,155.7 171.5,156.2 176.2,156.8 180.9,156.2 185.6,155.7M72.3,149.9 67.7,150.3 71.2,151.1 72.3,149.9M62.9,157.9 60.6,155.6 56.5,158.5 51.8,161.5 47.6,163.8 51.8,163.2 54.1,165.0 57.6,165.6 61.2,163.2 65.9,162.7 68.2,160.9 67.1,159.1 62.9,157.9M56.5,167.3 57.1,168.5 60.6,169.1 61.2,167.9 56.5,167.3M75.3,167.9 70.6,169.1 65.9,170.9 62.4,172.7 60.6,175.0 61.2,177.3 63.5,179.1 68.2,178.5 69.4,179.7 67.1,181.5 61.2,184.4 54.1,186.8 47.1,188.5 44.1,189.7 49.4,188.5 57.6,186.2 63.5,183.8 69.4,181.5 72.9,180.3 76.5,179.1 81.2,177.9 82.3,176.2 84.7,174.4 88.2,173.2 91.8,174.4 94.1,173.8 97.7,174.4 101.2,175.6 104.1,176.8 107.1,179.1 109.4,181.5 110.6,185.0 111.8,187.9 114.1,186.2 115.3,188.5 112.9,192.1 112.3,195.6 112.0,199.1 111.8,203.2 111.2,203.8 108.8,207.5 105.0,212.5 101.2,220.0 98.8,227.5 99.5,235.0 101.2,240.0 105.6,245.0 105.6,250.0 106.2,255.0 106.9,258.8 108.8,260.0 110.6,263.1 112.5,266.2 115.0,270.0 116.2,270.6 115.6,268.1 113.8,263.8 111.9,258.8 110.0,253.8 109.4,249.0 110.6,249.0 112.5,252.5 114.4,256.2 116.9,261.2 119.4,265.0 121.9,269.4 123.1,272.8 123.8,276.2 125.0,278.8 127.5,281.9 132.5,284.4 137.5,286.9 142.5,288.8 146.2,288.8 150.0,290.0 152.5,290.6 153.8,292.5 156.2,294.0 157.5,295.6 160.0,296.5 161.2,295.6 163.8,296.2 165.0,298.8 167.5,301.9 166.2,303.8 168.1,305.6 171.2,308.1 173.1,308.8 172.5,306.2 171.2,303.8 170.0,301.9 170.6,298.8 171.9,295.0 172.5,291.9 171.9,290.6 168.1,289.4 163.8,289.4 160.6,290.0 159.4,288.1 160.6,288.8 161.9,287.5 162.5,283.8 161.2,283.1 163.1,281.2 165.0,278.1 166.2,275.2 162.5,275.0 158.8,276.2 156.2,278.8 152.5,281.2 148.8,281.9 145.6,280.0 143.1,276.2 142.5,272.5 143.1,266.2 144.4,263.1 146.2,257.5 150.0,255.0 153.8,253.8 158.8,252.5 165.0,251.9 170.0,252.5 175.0,251.9 178.8,253.8 181.2,260.0 182.5,264.4 183.8,261.2 183.1,256.2 183.8,247.5 187.5,243.8 192.5,241.2 195.0,240.0 198.8,235.0 200.0,231.2 202.5,228.1 206.2,225.0 211.2,223.1 215.0,221.2 217.5,216.2 221.2,213.8 224.4,211.2 223.8,207.5 227.5,203.1 233.8,201.2 238.8,200.0 243.8,198.8 248.8,198.1 252.5,195.0 253.1,191.2 250.0,187.5 246.2,183.1 243.8,175.6 238.8,179.4 235.6,178.8 233.8,173.1 230.0,171.2 223.8,170.6 221.1,171.1 219.6,167.4 217.5,164.0 216.2,160.9 215.0,159.2 212.6,157.4 211.5,153.9 210.3,150.9 207.9,152.7 205.6,156.2 204.4,159.8 202.1,160.9 199.7,158.6 197.4,156.2 193.8,155.6 189.1,156.8 184.4,157.4 178.5,158.0 172.6,158.6 166.8,158.0 162.0,156.2 158.5,154.5 155.0,153.3 150.0,153.2 137.5,153.5 127.6,153.8 127.7,153.8 120.0,152.7 112.9,151.5 107.7,150.3 101.2,150.9 94.1,152.1 87.1,153.8 81.2,156.2 81.2,157.9 82.3,160.3 78.8,161.5 74.1,162.1 70.6,163.2 71.2,165.0 75.3,165.6 77.7,166.2 75.3,167.9M158.1,293.8 158.8,291.9 158.8,293.8 161.2,295.6 158.1,293.8M221.5,172.0 220.0,171.2 221.1,171.1 221.5,172.0M188.8,181.9 187.5,177.5 191.2,173.8 196.2,171.2 202.5,168.8 208.8,166.2 213.8,163.8 217.5,165.0 220.0,170.0 217.5,177.5 217.5,181.2 215.0,185.0 211.2,187.5 209.4,190.0 208.1,194.4 205.0,197.5 203.1,195.0 203.1,190.0 201.2,186.9 197.5,185.0 192.5,183.1 188.8,181.9M103.5,190.9 104.1,195.0 105.9,194.4 106.5,190.3 103.5,190.9M190.5,262.5 190.9,261.4 189.0,260.2 186.4,260.6 186.6,261.8 188.2,261.9 190.5,262.5M188.2,265.5 186.8,265.1 187.1,267.0 187.9,268.5 189.0,268.1 188.2,265.5M1.8,273.0 2.0,274.3 3.2,274.0 3.0,272.8 1.8,273.0M191.2,278.9 194.6,278.2 194.2,277.1 191.2,276.0 188.2,274.1 186.0,272.2 183.0,270.8 180.0,270.4 175.0,271.2 171.9,273.0 173.0,274.0 176.2,273.0 180.0,273.4 183.0,274.1 185.2,275.6 187.1,277.5 188.2,278.9 191.2,278.9M5.0,274.0 5.0,275.2 6.5,275.5 8.0,276.5 9.8,277.0 9.5,276.0 7.8,275.5 6.5,274.5 5.0,274.0M10.0,281.5 11.5,280.5 12.0,279.2 10.5,278.2 9.3,279.0 9.2,280.5 10.0,281.5M207.4,282.4 205.5,280.5 202.5,278.6 199.5,278.6 196.5,279.4 198.0,280.9 193.9,282.4 195.8,282.8 198.8,282.8 200.2,284.2 202.5,282.8 205.5,283.1 207.4,282.4M214.1,283.1 213.0,282.4 210.0,282.8 210.0,283.5 211.5,283.9 214.1,283.1M188.2,282.9 185.2,282.8 185.6,283.9 187.5,284.2 189.8,283.5 188.2,282.9M184.6,316.0 182.9,320.9 181.3,325.7 179.7,329.0 177.3,333.0 176.5,337.0 177.5,340.5 176.5,342.0 177.3,344.3 179.7,348.4 183.7,353.2 187.8,359.7 192.6,366.1 197.5,371.0 201.5,375.0 204.0,375.8 203.8,377.3 204.8,384.7 205.7,392.0 205.7,399.3 204.8,406.7 205.7,414.0 204.8,421.3 205.7,428.7 206.6,436.0 207.5,443.3 208.4,450.7 210.3,458.0 213.9,463.5 217.6,467.2 221.3,469.9 224.9,471.8 229.5,474.5 233.2,474.5 236.8,473.6 234.1,472.7 229.5,470.8 227.7,467.2 226.8,465.3 224.9,461.7 224.0,458.0 225.8,454.3 224.9,450.7 225.8,447.0 227.7,443.3 228.6,440.6 226.8,437.8 228.6,434.2 232.2,432.3 236.8,431.4 239.6,428.7 237.8,425.0 235.0,423.2 235.9,418.6 238.7,421.3 243.3,421.3 246.0,418.6 247.8,415.8 250.6,410.3 253.3,404.8 254.3,399.3 257.0,393.8 262.5,391.1 268.0,389.3 269.8,384.7 272.6,377.3 273.5,371.0 274.3,364.5 276.7,359.7 279.9,354.8 282.4,350.0 281.6,345.1 278.3,341.9 273.5,339.5 267.0,337.8 262.2,336.2 257.3,333.8 251.6,331.4 247.6,329.0 246.0,324.1 244.4,321.7 242.8,319.3 239.5,316.8 236.3,317.6 234.7,316.0 230.6,316.0 229.0,312.8 226.6,309.6 224.2,307.1 221.7,303.1 218.5,302.3 213.7,303.1 208.8,303.9 204.0,303.1 200.7,300.7 199.1,298.2 195.9,301.5 191.0,302.3 187.8,304.7 185.4,307.1 185.0,308.1 184.4,306.9 181.9,305.6 178.8,306.9 175.0,307.5 173.1,306.2 174.4,310.0 176.2,311.2 179.4,310.0 181.9,308.8 183.8,310.6 184.0,310.4 183.7,311.2 184.6,316.0M267.9,130.9 273.8,128.6 267.9,127.8 255.0,128.0 244.4,128.6 237.3,129.8 230.3,131.5 224.4,133.3 225.6,136.2 231.5,137.4 237.3,139.2 244.4,138.6 249.1,137.4 255.0,135.1 260.9,133.3 267.9,130.9M379.3,134.1 383.0,137.0 385.9,138.8 388.7,137.0 396.2,136.0 400.0,132.2 390.6,131.7 385.0,132.2 379.3,134.1M223.2,143.3 230.3,143.3 237.3,142.7 237.3,140.9 231.5,140.3 225.6,139.8 219.7,141.5 223.2,143.3M271.0,165.2 273.0,170.8 276.7,174.6 280.5,175.5 283.3,172.7 287.0,167.0 292.7,162.4 300.2,159.5 309.6,156.7 319.0,153.9 324.7,152.0 328.5,148.2 332.2,142.6 334.1,137.0 336.0,132.2 345.4,129.8 334.1,128.5 315.3,127.5 296.5,128.5 277.6,128.5 270.0,130.4 262.6,133.2 255.0,136.0 256.0,137.9 260.7,138.8 268.2,140.7 272.9,144.5 272.0,150.1 273.9,155.8 271.0,159.5 271.0,165.2M229.1,164.5 235.7,165.5 238.5,168.3 242.2,170.2 246.0,166.4 247.9,162.7 252.6,163.6 255.4,160.8 249.8,157.9 246.0,153.2 240.3,148.5 234.7,146.7 225.3,145.7 216.8,148.5 218.7,152.3 223.4,155.1 229.1,156.1 232.8,157.9 229.1,159.8 224.3,161.7 225.3,165.5 229.1,164.5M321.0,163.3 323.8,166.1 328.5,167.0 334.1,166.7 338.8,164.2 337.9,161.4 332.2,161.0 324.7,161.4 321.0,163.3M354.0,195.5 355.0,197.0 353.0,199.0 351.5,200.5 354.0,200.0 356.0,199.0 359.0,199.0 361.5,198.5 364.0,198.0 365.5,196.5 366.0,194.0 364.0,192.0 362.0,190.0 360.0,187.0 358.0,185.0 358.5,182.0 356.0,181.5 357.0,179.5 353.0,179.5 352.2,181.0 351.8,183.0 352.5,186.0 353.5,188.0 355.0,189.5 356.5,190.5 356.0,192.0 354.0,193.5 354.0,195.5M350.5,188.5 348.5,188.0 346.5,190.0 345.0,192.5 343.5,195.0 345.0,196.2 347.5,196.0 349.5,194.0 350.5,191.5 351.5,190.0 350.5,188.5M242.5,205.0 245.0,206.9 250.0,208.1 253.8,208.8 255.0,205.0 252.5,201.2 248.1,198.8 245.0,201.2 242.5,205.0M343.8,217.5 343.3,220.0 343.1,220.0 342.5,225.0 343.8,228.8 344.4,232.5 344.4,232.5 346.2,233.1 348.1,234.4 350.0,236.2 353.1,235.6 356.2,233.8 360.0,231.2 362.5,227.5 364.4,224.4 366.2,221.9 367.5,220.0 368.8,218.8 372.5,216.9 376.2,216.9 376.3,216.9 378.1,215.0 378.0,214.3 380.1,215.8 382.6,216.5 384.5,217.7 385.8,219.6 387.7,221.5 390.2,223.4 392.7,224.7 395.3,226.0 396.5,227.9 397.2,230.4 396.5,231.7 397.8,230.4 399.1,228.5 399.7,226.6 401.0,226.6 401.6,226.0 400.3,224.7 398.4,223.4 396.5,222.2 394.0,220.3 392.1,218.4 390.2,215.8 388.6,212.0 390.2,211.7 390.8,211.4 392.1,212.7 394.0,214.6 395.9,216.5 398.4,218.4 401.0,219.6 402.9,220.9 404.2,222.8 404.8,224.7 405.4,226.6 406.7,228.5 408.0,230.4 409.2,232.3 410.5,234.2 411.8,233.0 413.0,231.7 412.4,229.8 411.1,227.9 411.8,226.0 413.0,225.3 414.3,224.7 416.8,224.1 419.4,223.4 420.5,224.2 419.4,225.3 420.6,227.9 419.4,230.4 420.6,233.0 423.2,234.2 425.0,235.5 428.0,235.0 431.0,234.5 435.0,233.5 438.0,234.0 440.5,235.5 441.0,238.0 440.5,241.0 440.0,244.0 440.0,246.6 438.0,249.0 434.0,249.0 424.0,248.0 414.0,247.0 406.0,246.0 400.0,249.0 394.0,248.0 388.0,246.0 386.0,240.0 384.0,233.0 380.0,233.6 370.0,234.0 360.0,235.0 351.0,237.0 348.0,242.0 344.0,248.0 339.0,254.0 336.0,258.0 332.0,262.0 329.0,267.0 326.0,271.0 324.4,276.0 324.0,282.0 324.0,288.0 324.0,292.0 325.0,296.0 329.0,301.0 333.0,305.0 337.0,310.0 340.0,315.0 345.0,318.0 352.0,319.0 360.0,318.0 368.0,317.6 374.0,319.0 380.0,320.0 384.0,320.0 385.0,324.0 386.0,324.1 385.0,328.0 386.0,333.0 389.0,338.0 391.0,344.0 392.0,346.0 391.0,350.0 390.0,358.0 390.0,366.0 389.0,374.0 390.0,378.0 393.0,386.0 396.0,394.0 399.0,402.0 400.0,408.0 402.0,414.0 404.0,419.0 410.0,420.0 418.0,419.0 424.0,416.0 430.0,411.0 434.0,406.0 436.0,401.0 439.0,396.0 440.0,390.0 441.0,386.0 445.0,382.0 450.0,378.0 454.0,374.0 456.0,370.0 456.0,364.0 456.0,359.0 454.0,355.0 453.0,350.0 454.0,344.0 453.5,341.5 454.0,339.0 457.0,334.0 460.0,330.0 465.0,323.8 470.0,317.5 475.0,311.2 478.8,305.0 480.0,298.8 472.0,300.0 464.0,301.0 462.0,300.0 462.0,298.5 461.4,298.2 461.2,297.5 461.2,297.5 461.0,297.0 458.8,292.5 455.0,286.2 452.5,282.5 452.3,282.6 451.0,280.0 448.0,274.0 444.0,266.0 440.0,258.0 440.0,253.0 441.5,250.0 443.8,255.0 447.5,261.2 451.2,268.8 455.0,275.0 457.5,280.0 460.0,286.2 461.2,291.2 462.5,296.2 463.0,296.5 470.0,294.0 478.0,291.0 483.0,288.0 488.0,284.0 492.0,279.0 496.0,275.0 497.0,272.0 494.0,268.0 491.0,265.0 489.0,263.0 486.0,266.0 483.0,268.0 481.0,266.0 479.0,263.0 476.0,259.0 473.0,255.0 471.0,253.0 472.0,252.0 476.0,254.0 481.0,258.0 486.0,261.0 489.0,262.0 492.0,264.0 496.0,265.0 502.0,265.0 508.0,264.0 514.0,265.0 518.0,267.0 522.0,270.0 525.0,275.0 528.0,281.0 531.0,287.0 534.0,294.0 537.0,301.0 540.0,308.0 543.0,303.0 545.0,295.0 548.0,289.0 552.0,283.0 557.0,278.0 562.0,274.0 563.0,271.0 566.0,272.0 569.0,273.0 570.0,272.0 571.5,274.5 572.2,277.5 573.8,281.2 576.0,285.0 577.1,288.0 579.8,288.8 582.8,288.0 582.8,290.0 584.0,294.0 585.5,297.0 586.0,300.0 587.0,303.0 588.0,306.0 589.5,309.0 591.0,311.0 592.3,313.0 593.8,315.8 595.3,318.8 597.5,321.8 599.8,325.1 602.0,327.8 603.5,327.0 602.8,324.0 601.3,320.3 599.0,316.5 596.0,314.3 592.6,312.0 591.0,309.0 590.0,306.0 592.0,302.0 595.0,300.0 599.0,301.0 603.0,303.0 606.0,303.0 605.0,307.0 607.0,308.0 610.0,306.0 612.5,302.0 613.1,298.5 612.8,295.5 612.0,292.5 610.5,289.5 608.2,287.2 605.2,284.2 603.8,281.2 605.2,279.0 607.5,276.0 610.5,273.8 611.5,276.0 613.5,273.0 616.5,272.2 618.0,272.0 624.0,269.0 629.0,265.0 632.0,260.0 633.0,254.0 632.0,250.0 627.5,245.5 624.5,241.8 623.0,238.0 624.5,235.0 626.8,233.9 623.0,232.8 620.0,232.8 619.0,230.0 617.0,228.0 617.0,224.0 620.0,223.8 624.5,226.8 626.8,226.8 628.2,226.0 629.4,226.8 630.5,228.2 632.0,229.8 634.2,230.9 635.0,232.4 635.1,232.7 635.4,234.2 635.7,235.2 636.1,236.5 637.2,239.5 639.1,240.6 641.8,240.2 643.6,238.8 643.2,236.5 641.8,233.5 639.5,231.2 637.2,229.8 636.5,227.5 635.8,224.5 636.1,223.0 636.6,222.1 636.9,221.5 638.0,220.0 638.0,219.6 641.0,219.2 644.0,217.8 645.5,214.0 646.6,209.5 646.2,205.0 643.8,197.5 638.8,190.5 635.0,190.0 627.5,188.8 625.0,185.0 627.5,180.0 632.5,178.8 640.0,178.8 647.5,177.5 652.5,173.8 656.2,171.2 660.0,172.5 658.8,175.0 660.0,181.2 663.8,185.0 667.5,190.0 671.2,195.0 675.0,197.5 675.0,190.0 673.8,185.0 670.0,181.2 665.0,178.8 666.2,176.2 668.8,177.5 672.5,175.0 676.2,173.8 680.0,171.2 685.0,170.0 677.5,165.0 672.5,160.0 665.0,156.2 657.5,152.5 647.5,155.0 640.0,153.0 630.0,152.5 620.0,151.2 615.0,150.0 605.0,148.8 595.0,147.5 585.0,146.2 577.5,148.8 570.0,146.2 560.0,146.2 550.0,145.0 540.0,143.8 535.0,141.2 527.5,140.0 520.0,138.8 510.0,140.0 502.5,141.2 497.5,145.0 492.5,147.5 490.0,152.5 490.0,160.0 487.5,157.5 485.0,152.5 481.2,148.8 475.0,148.8 472.5,152.5 465.0,153.8 457.5,155.0 450.0,156.2 442.5,156.2 440.0,158.0 437.0,158.0 435.0,163.0 432.0,164.5 429.0,166.0 426.0,165.0 423.0,162.5 420.5,160.5 423.0,161.0 426.0,163.5 429.0,164.0 432.0,162.5 433.0,160.0 430.0,157.5 425.0,156.0 420.0,155.0 416.0,154.0 414.5,152.5 412.0,151.0 407.0,150.5 402.0,151.5 397.0,153.5 392.0,156.0 388.0,159.0 384.0,163.0 380.0,166.0 376.0,168.5 372.5,171.0 372.5,175.0 374.0,179.0 377.0,180.0 380.0,178.0 383.0,178.0 383.0,182.0 384.0,185.0 386.0,187.0 389.0,187.0 391.0,185.0 393.0,182.0 394.5,178.0 396.0,175.0 394.5,171.0 397.0,168.0 400.0,165.0 403.0,163.0 406.0,163.5 404.0,166.0 402.5,169.0 402.0,172.0 404.0,175.0 407.0,176.0 411.0,175.5 414.0,176.0 411.0,177.0 407.5,177.5 406.0,179.0 404.5,181.5 404.0,183.5 402.0,185.0 401.0,188.0 399.0,189.0 394.0,189.0 391.0,190.0 388.0,189.0 386.0,189.0 383.0,189.0 382.0,187.0 382.5,184.0 381.0,182.0 379.0,183.0 378.5,185.0 378.0,189.5 375.0,192.0 372.0,193.0 370.0,196.0 368.0,198.0 366.0,199.0 365.0,200.6 362.5,201.2 360.0,201.9 355.0,202.5 354.4,204.4 354.4,204.4 354.4,204.4 356.2,206.2 358.8,208.8 360.0,213.8 360.0,218.1 355.0,217.5 348.8,216.9 343.8,217.5M435.2,211.1 434.9,210.1 436.8,209.6 439.2,209.2 440.6,209.6 440.1,211.1 438.2,211.5 436.4,211.8 435.2,211.1M423.2,221.9 422.2,219.5 422.7,216.2 424.1,213.4 426.0,210.6 427.4,209.9 429.3,210.6 430.7,211.5 431.6,212.9 433.1,214.4 434.5,214.4 435.9,213.4 436.8,213.2 437.8,213.4 439.6,214.4 442.0,215.3 444.4,216.7 446.7,218.1 449.1,219.5 450.0,221.4 448.6,222.6 446.2,223.1 443.9,222.8 441.5,222.4 439.2,221.6 436.8,221.2 434.5,220.9 432.1,221.2 429.8,221.9 427.4,222.8 425.1,222.8 423.2,221.9M461.2,216.2 460.6,213.1 463.8,210.6 467.5,208.8 471.2,209.4 471.9,212.5 468.8,214.4 467.5,217.5 470.0,221.2 472.5,223.8 476.2,223.8 477.5,227.5 477.5,232.5 476.2,234.4 472.5,233.8 468.8,231.2 467.5,227.5 466.2,222.5 463.8,218.8 461.2,216.2M228.8,216.2 233.8,213.1 238.8,211.2 239.4,209.0 235.0,210.0 230.0,212.5 225.6,215.0 228.8,216.2M382.3,222.2 383.2,221.6 382.9,219.0 382.0,219.0 382.3,222.2M383.6,227.2 383.2,224.1 381.3,224.1 381.3,227.9 382.6,229.2 383.6,227.2M392.7,233.3 395.3,233.6 395.9,231.7 393.4,231.1 389.6,231.1 390.2,232.3 392.7,233.3M417.0,239.5 419.5,239.0 417.0,238.0 414.0,238.0 417.0,239.5M221.9,283.8 221.9,284.8 222.9,284.8 222.9,283.8 221.9,283.8M222.2,286.0 222.2,287.0 223.2,287.0 223.2,286.0 222.2,286.0M222.2,289.8 222.2,290.8 223.2,290.8 223.2,289.8 222.2,289.8M223.0,293.9 223.0,294.9 224.0,294.9 224.0,293.9 223.0,293.9M222.2,295.8 222.2,296.8 223.2,296.8 223.2,295.8 222.2,295.8M226.0,295.8 226.0,296.8 227.0,296.8 227.0,295.8 226.0,295.8M220.8,299.1 220.8,300.1 221.8,300.1 221.8,299.1 220.8,299.1M426.0,131.5 432.0,132.8 436.0,131.5 430.0,130.8 426.0,131.5M493.8,131.2 500.0,135.0 507.5,135.0 502.5,132.5 493.8,131.2M575.0,141.2 587.5,143.8 595.0,142.5 585.0,140.0 575.0,141.2M450.0,142.5 446.2,147.5 447.5,150.0 450.0,151.2 451.2,147.5 455.0,143.8 463.8,141.2 466.2,138.8 457.5,140.0 450.0,142.5M437.5,237.5 435.0,238.0 433.0,239.0 434.5,240.0 436.5,239.0 437.5,237.5M611.6,283.1 613.5,281.2 614.2,279.4 612.0,279.0 609.8,280.1 609.8,282.0 611.6,283.1M550.0,314.0 551.0,309.0 549.0,305.0 547.0,306.0 546.4,311.0 548.0,315.0 550.0,314.0M618.5,325.2 615.5,326.0 614.4,328.2 614.8,331.2 616.2,334.2 617.4,337.2 618.5,338.8 621.5,339.1 624.5,339.5 626.8,341.0 628.2,340.2 629.8,338.0 631.2,335.8 632.8,332.8 633.9,330.5 635.0,328.6 636.9,328.2 635.8,326.0 635.0,323.0 634.2,320.0 635.8,318.5 637.6,317.4 636.5,316.2 634.2,314.0 632.4,312.5 630.9,314.0 629.0,316.2 628.0,317.6 627.5,317.8 627.6,318.1 626.8,319.2 624.5,321.5 621.5,323.4 618.5,325.2M597.5,339.8 600.5,342.8 603.5,345.0 606.1,346.5 606.9,344.2 607.2,340.5 606.5,337.5 603.9,334.5 602.0,330.8 600.5,328.1 598.2,326.6 595.2,325.5 593.0,323.6 590.0,320.2 587.4,317.2 584.8,316.5 582.1,316.9 582.5,318.0 584.8,320.2 587.8,323.2 590.8,327.0 591.9,330.0 594.5,333.8 596.0,336.8 597.5,339.8M624.5,350.2 621.5,348.8 618.5,348.0 614.8,348.0 611.0,346.9 608.0,346.1 606.1,346.9 607.6,348.8 610.2,349.9 614.0,350.6 617.8,351.4 621.5,352.1 625.2,353.2 627.5,353.2 627.9,351.8 624.5,350.2M468.0,395.0 471.0,388.0 474.0,380.0 477.0,372.0 478.0,367.0 476.0,363.0 474.0,368.0 471.0,372.0 466.0,376.0 463.0,382.0 462.0,388.0 461.0,394.0 464.0,398.0 468.0,395.0M645.0,193.8 640.0,190.0 641.2,193.8 646.2,198.8 651.2,205.0 655.0,210.5 657.5,210.0 653.8,205.0 650.0,200.0 645.0,193.8M663.5,219.6 665.0,218.5 666.5,217.0 663.5,215.5 660.5,214.8 657.5,213.2 655.2,212.5 655.6,214.8 656.8,217.0 656.4,219.2 657.5,221.1 659.0,221.9 660.1,220.8 661.6,219.2 663.5,219.6M654.5,238.8 652.2,240.2 650.0,241.8 649.1,242.7 648.9,242.5 647.0,244.0 647.0,245.9 648.5,247.8 650.0,249.6 651.5,248.5 651.5,246.2 650.6,244.4 651.5,244.0 653.0,243.2 655.2,242.5 657.5,242.1 659.8,241.4 662.0,241.0 664.2,240.2 666.5,238.8 667.6,237.2 666.9,233.5 665.8,230.5 665.0,227.5 663.5,224.9 661.6,223.4 659.8,223.0 659.8,224.5 660.1,226.0 660.9,228.2 660.9,231.2 659.8,233.5 657.9,235.0 656.8,237.2 654.5,238.8M655.2,242.9 652.2,244.0 652.6,245.1 654.5,245.1 656.8,244.0 655.2,242.9M637.0,269.0 636.0,265.0 634.0,266.0 634.0,271.0 635.6,273.0 637.0,269.0M647.1,297.5 646.8,295.6 644.5,293.8 641.5,293.4 640.8,291.5 641.5,288.5 641.9,285.5 640.8,282.9 637.4,282.1 636.6,286.2 637.0,289.2 638.9,291.5 639.6,293.8 641.1,294.9 643.0,295.6 645.2,297.1 647.1,297.5M641.1,298.2 640.4,296.0 638.9,295.6 638.9,296.8 640.0,298.6 641.1,298.2M650.5,302.8 651.6,301.2 650.5,299.4 647.9,298.2 648.2,301.2 649.0,303.5 650.5,302.8M643.4,302.8 644.1,305.0 645.2,306.5 646.0,305.0 647.5,303.9 646.8,302.0 644.5,300.5 642.2,300.1 643.4,302.8M633.2,308.8 635.5,306.5 637.4,303.1 637.8,301.6 637.0,302.0 634.8,306.5 632.5,308.8 633.2,308.8M653.5,308.0 652.4,305.8 650.9,306.1 648.2,308.4 646.0,309.5 643.8,311.0 644.9,312.5 646.8,311.4 649.0,311.0 649.8,313.2 651.2,315.5 652.4,314.8 653.9,311.8 653.5,308.0M657.1,327.5 657.5,329.8 657.9,332.0 658.6,330.5 659.4,328.2 659.0,326.0 657.5,325.2 657.1,327.5M641.8,342.5 642.5,341.0 644.0,343.2 645.5,344.8 646.6,344.0 646.2,341.0 644.8,338.8 644.0,336.5 645.5,335.0 647.4,333.9 647.0,332.8 644.8,333.5 642.5,332.8 643.2,330.5 645.5,329.8 648.5,329.4 650.8,328.6 651.5,327.1 650.0,326.8 647.0,327.9 644.0,327.5 641.8,327.9 640.2,329.4 639.5,331.2 638.4,333.5 637.2,335.8 638.0,338.0 638.8,340.2 639.1,343.2 640.2,344.0 641.8,342.5M662.0,338.0 659.0,338.4 660.5,339.5 663.5,339.9 664.2,338.8 662.0,338.0M715.6,341.2 713.8,338.8 710.6,337.5 711.9,339.0 714.4,340.6 715.6,341.2M657.5,339.5 656.0,338.8 653.8,339.1 654.1,340.1 656.0,340.2 657.5,339.5M677.6,343.4 680.4,344.8 681.8,346.9 681.1,349.7 679.7,352.2 682.5,352.5 684.6,353.2 687.1,353.9 688.9,354.3 691.7,353.2 694.5,351.8 697.3,351.8 700.2,353.2 703.0,355.4 705.8,357.5 708.6,357.8 706.5,355.4 703.7,351.8 701.6,348.3 703.0,347.6 700.9,345.5 698.0,342.6 695.2,340.2 691.0,338.4 687.8,337.4 684.6,336.3 681.8,335.2 679.0,335.2 676.9,336.6 674.8,338.4 673.0,337.4 672.6,334.9 671.9,332.4 669.1,331.7 667.0,332.4 664.2,333.5 665.9,334.9 667.4,336.6 669.1,337.7 668.8,339.5 669.8,341.2 672.6,340.5 674.8,341.6 677.6,343.4M706.2,346.9 710.0,346.2 713.1,344.4 715.6,342.5 714.4,341.2 712.5,342.5 708.8,344.4 704.4,345.0 706.2,346.9M720.6,345.6 718.8,344.4 718.8,346.2 720.0,348.1 721.9,348.1 720.6,345.6M671.9,345.5 671.6,347.9 672.6,348.3 673.0,345.5 671.9,345.5M723.5,348.5 723.8,349.5 725.4,350.0 725.0,349.1 723.5,348.5M651.0,353.6 647.0,356.0 649.0,357.6 653.0,354.4 653.3,354.0 654.0,353.8 655.2,352.0 654.9,352.1 655.0,352.0 654.1,352.3 653.0,352.6 652.4,352.9 652.0,353.0 651.7,353.2 651.0,353.5 651.0,353.6M730.6,355.6 732.5,356.9 734.4,357.5 733.8,354.4 731.2,351.9 727.5,350.0 729.4,355.0 730.6,355.6M636.0,352.4 631.0,353.0 631.0,354.4 635.0,355.0 639.0,355.6 643.0,355.0 646.0,354.0 644.0,352.0 640.0,353.0 636.0,352.4M743.1,369.4 743.8,373.1 745.0,373.1 744.4,369.4 743.1,369.4M770.0,373.8 772.5,374.4 773.8,373.1 770.0,373.8M766.9,378.8 769.4,378.1 768.8,376.2 766.2,376.9 766.9,378.8M740.0,388.1 736.2,383.8 734.4,383.1 735.0,385.6 738.8,388.8 740.0,388.1M627.0,417.6 633.8,416.5 640.5,414.2 647.2,413.1 652.9,414.2 657.4,417.6 660.8,422.1 663.0,418.8 664.1,424.4 666.4,428.9 669.8,431.1 674.2,430.0 681.0,428.9 686.6,426.6 691.1,422.1 695.6,417.6 700.1,412.0 703.5,406.4 705.8,399.6 704.6,394.0 702.4,387.2 699.0,383.9 694.5,379.4 693.4,371.5 692.2,364.8 690.0,360.2 687.8,364.8 685.5,372.6 682.1,376.0 677.6,372.6 673.1,369.2 674.2,365.9 675.4,362.5 669.8,362.5 666.4,361.4 660.8,364.8 658.5,369.2 654.0,368.1 648.4,370.4 642.8,373.8 639.4,379.4 633.8,382.8 627.0,385.0 620.2,388.4 618.0,394.0 616.9,400.8 618.0,407.5 616.9,414.2 614.6,418.8 615.8,421.0 620.2,419.9 627.0,417.6M746.2,428.9 742.9,427.8 741.8,424.4 739.5,421.0 738.4,427.8 737.2,432.2 733.9,435.6 732.8,439.0 735.0,439.0 739.5,435.6 744.0,432.2 746.2,428.9M668.6,444.6 672.0,443.5 675.4,441.2 676.5,437.9 672.0,437.9 668.6,439.0 667.5,442.4 668.6,444.6M726.0,442.4 730.5,440.1 729.4,436.8 724.9,439.0 719.2,442.4 712.5,445.8 706.9,449.1 705.8,451.4 710.2,451.4 715.9,448.0 721.5,444.6 726.0,442.4" fill="none" stroke="#a8a8a8" stroke-width="0.5" stroke-linejoin="round"/>
</g>
<g id="legend">
<text class="l" x="71" y="530">No data</text>
<line x1="94" y1="534" x2="94" y2="537" stroke="#bbb" stroke-width="0.7"/>
<rect x="70.5" y="537" width="47" height="11.2" fill="url(#hatch)" stroke="#bbb" stroke-width="0.6"/>
<rect x="137.50" y="537" width="80.30" height="11.3" fill="#fbfccf"/>
<rect x="217.80" y="537" width="80.30" height="11.3" fill="#e0f3db"/>
<rect x="298.10" y="537" width="80.30" height="11.3" fill="#ccebc5"/>
<rect x="378.40" y="537" width="80.30" height="11.3" fill="#a8ddb5"/>
<rect x="458.70" y="537" width="80.30" height="11.3" fill="#7bccc4"/>
<rect x="539.00" y="537" width="80.30" height="11.3" fill="#4eb3d3"/>
<rect x="619.30" y="537" width="80.30" height="11.3" fill="#2b8cbe"/>
<rect x="699.60" y="537" width="80.30" height="11.3" fill="#08589e"/>
<rect x="137.50" y="537" width="642.40" height="11.3" fill="none" stroke="#000" stroke-opacity="0.25" stroke-width="0.8"/>
<line x1="217.80" y1="537" x2="217.80" y2="548.3" stroke="#000" stroke-opacity="0.25" stroke-width="0.8"/>
<line x1="298.10" y1="537" x2="298.10" y2="548.3" stroke="#000" stroke-opacity="0.25" stroke-width="0.8"/>
<line x1="378.40" y1="537" x2="378.40" y2="548.3" stroke="#000" stroke-opacity="0.25" stroke-width="0.8"/>
<line x1="458.70" y1="537" x2="458.70" y2="548.3" stroke="#000" stroke-opacity="0.25" stroke-width="0.8"/>
<line x1="539.00" y1="537" x2="539.00" y2="548.3" stroke="#000" stroke-opacity="0.25" stroke-width="0.8"/>
<line x1="619.30" y1="537" x2="619.30" y2="548.3" stroke="#000" stroke-opacity="0.25" stroke-width="0.8"/>
<line x1="699.60" y1="537" x2="699.60" y2="548.3" stroke="#000" stroke-opacity="0.25" stroke-width="0.8"/>
<text class="l" x="177.60" y="515.3" text-anchor="middle">None</text>
<line x1="177.60" y1="519.8" x2="177.60" y2="537" stroke="#aaa" stroke-width="0.8"/>
<text class="l" x="217.80" y="530" text-anchor="middle">&lt;1 species</text>
<line x1="217.80" y1="534" x2="217.80" y2="537" stroke="#aaa" stroke-width="0.8"/>
<text class="l" x="298.10" y="515.3" text-anchor="middle">5 species</text>
<line x1="298.10" y1="519.8" x2="298.10" y2="537" stroke="#aaa" stroke-width="0.8"/>
<text class="l" x="378.40" y="530" text-anchor="middle">10 species</text>
<line x1="378.40" y1="534" x2="378.40" y2="537" stroke="#aaa" stroke-width="0.8"/>
<text class="l" x="458.70" y="515.3" text-anchor="middle">20 species</text>
<line x1="458.70" y1="519.8" x2="458.70" y2="537" stroke="#aaa" stroke-width="0.8"/>
<text class="l" x="539.00" y="530" text-anchor="middle">50 species</text>
<line x1="539.00" y1="534" x2="539.00" y2="537" stroke="#aaa" stroke-width="0.8"/>
<text class="l" x="619.30" y="515.3" text-anchor="middle">75 species</text>
<line x1="619.30" y1="519.8" x2="619.30" y2="537" stroke="#aaa" stroke-width="0.8"/>
<text class="l" x="699.60" y="530" text-anchor="middle">100 species</text>
<line x1="699.60" y1="534" x2="699.60" y2="537" stroke="#aaa" stroke-width="0.8"/>
<text class="l" x="779.90" y="515.3" text-anchor="middle">125 species</text>
<line x1="779.90" y1="519.8" x2="779.90" y2="537" stroke="#aaa" stroke-width="0.8"/>
</g>
<text x="16.6" y="580.5" font-family="Liberation Sans, sans-serif" font-size="12" font-weight="700" fill="#666" textLength="72" lengthAdjust="spacingAndGlyphs">Data source:</text>
<text x="92.6" y="580.5" font-family="Liberation Sans, sans-serif" font-size="12.8" fill="#666" textLength="485" lengthAdjust="spacingAndGlyphs">International Union for Conservation of Nature Red List of Threatened Species (2025)</text>
<text x="596.2" y="580.5" font-family="Liberation Sans, sans-serif" font-size="13" fill="#666" textLength="234.3" lengthAdjust="spacingAndGlyphs">OurWorldinData.org/biodiversity | CC BY</text>
</svg>
</body></html>
